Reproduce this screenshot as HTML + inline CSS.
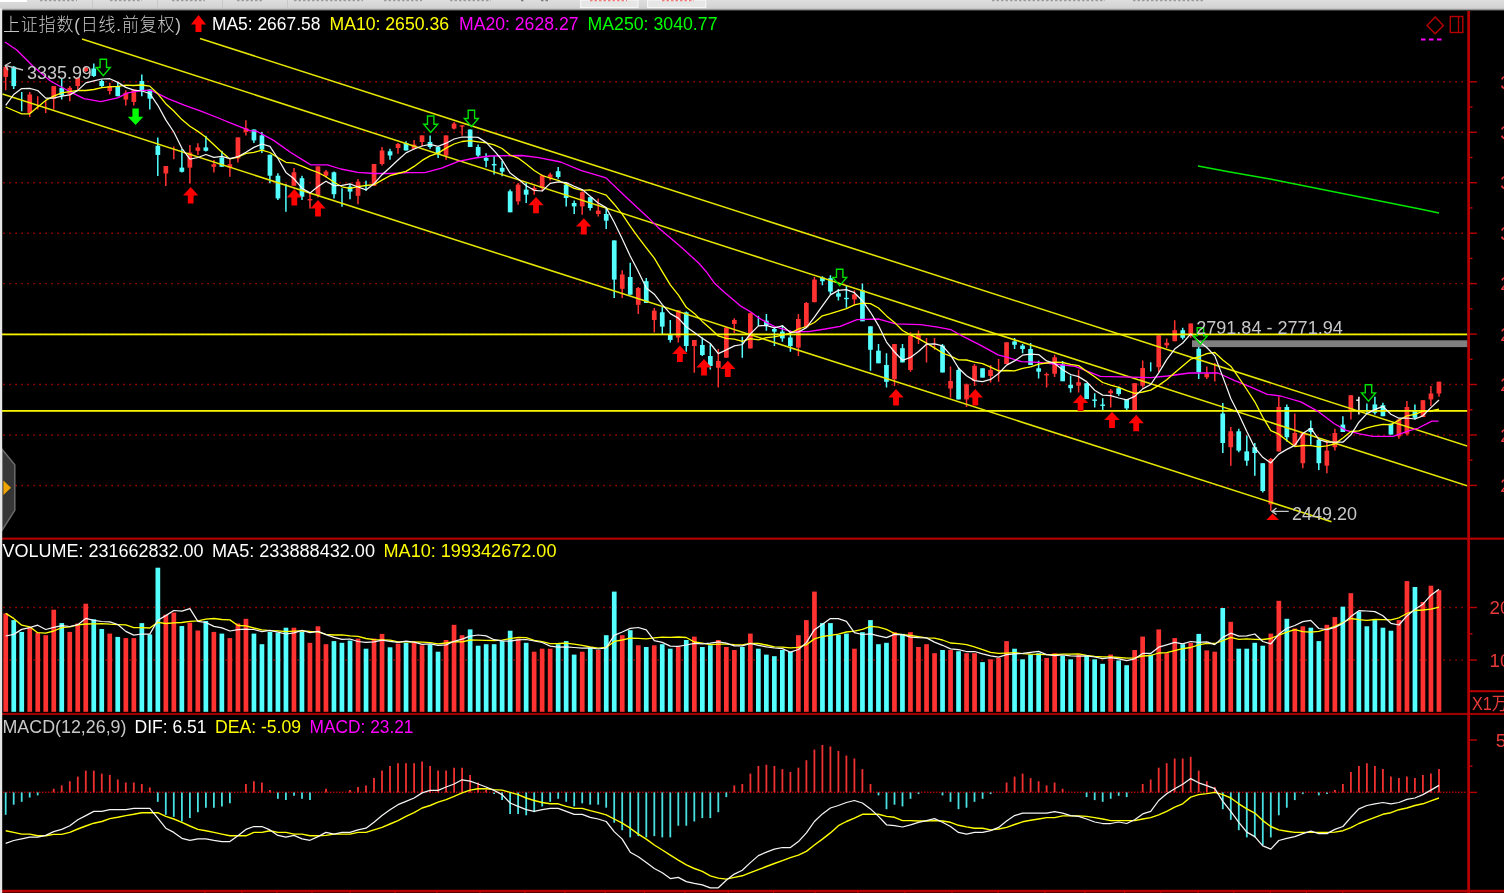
<!DOCTYPE html>
<html lang="zh-CN"><head><meta charset="utf-8"><title>上证指数 日线</title>
<style>html,body{margin:0;padding:0;background:#000;overflow:hidden}body{width:1504px;height:893px;position:relative}</style>
</head><body>
<svg width="1504" height="893" viewBox="0 0 1504 893" style="position:absolute;left:0;top:0;display:block;filter:blur(0.45px)">
<defs><linearGradient id="tb" x1="0" y1="0" x2="0" y2="1"><stop offset="0" stop-color="#dedede"/><stop offset="0.75" stop-color="#d2d2d2"/><stop offset="0.88" stop-color="#909090"/><stop offset="1" stop-color="#000"/></linearGradient>
<clipPath id="mainclip"><rect x="2" y="10" width="1465.5" height="528"/></clipPath></defs>
<rect width="1504" height="893" fill="#000"/>
<line x1="3.35" x2="1466" y1="81.8" y2="81.8" stroke="#b00000" stroke-width="1.45" stroke-dasharray="1.5 4.5"/>
<line x1="3.35" x2="1466" y1="132.2" y2="132.2" stroke="#b00000" stroke-width="1.45" stroke-dasharray="1.5 4.5"/>
<line x1="3.35" x2="1466" y1="182.7" y2="182.7" stroke="#b00000" stroke-width="1.45" stroke-dasharray="1.5 4.5"/>
<line x1="3.35" x2="1466" y1="233.2" y2="233.2" stroke="#b00000" stroke-width="1.45" stroke-dasharray="1.5 4.5"/>
<line x1="3.35" x2="1466" y1="283.6" y2="283.6" stroke="#b00000" stroke-width="1.45" stroke-dasharray="1.5 4.5"/>
<line x1="3.35" x2="1466" y1="334.1" y2="334.1" stroke="#b00000" stroke-width="1.45" stroke-dasharray="1.5 4.5"/>
<line x1="3.35" x2="1466" y1="384.5" y2="384.5" stroke="#b00000" stroke-width="1.45" stroke-dasharray="1.5 4.5"/>
<line x1="3.35" x2="1466" y1="435.0" y2="435.0" stroke="#b00000" stroke-width="1.45" stroke-dasharray="1.5 4.5"/>
<line x1="3.35" x2="1466" y1="485.4" y2="485.4" stroke="#b00000" stroke-width="1.45" stroke-dasharray="1.5 4.5"/>
<line x1="3.35" x2="1466" y1="607.5" y2="607.5" stroke="#b00000" stroke-width="1.45" stroke-dasharray="1.5 4.5"/>
<line x1="3.35" x2="1466" y1="660.1" y2="660.1" stroke="#b00000" stroke-width="1.45" stroke-dasharray="1.5 4.5"/>
<line x1="3" x2="1467" y1="792.2" y2="792.2" stroke="#a80000" stroke-width="1.6" stroke-dasharray="1.5 1.5"/>
<g clip-path="url(#mainclip)">
<rect x="1192" y="340.3" width="276" height="6.8" fill="#808080"/>
<line x1="5.7" x2="5.7" y1="65.0" y2="90.3" stroke="#ff3232" stroke-width="1.5"/>
<rect x="3.4" y="66.8" width="4.7" height="10.1" fill="#ff3232"/>
<line x1="13.7" x2="13.7" y1="66.0" y2="89.0" stroke="#54ffff" stroke-width="1.5"/>
<rect x="11.4" y="66.8" width="4.7" height="19.3" fill="#54ffff"/>
<line x1="21.7" x2="21.7" y1="92.0" y2="111.3" stroke="#54ffff" stroke-width="1.5"/>
<line x1="29.7" x2="29.7" y1="92.0" y2="117.0" stroke="#ff3232" stroke-width="1.5"/>
<rect x="27.4" y="94.5" width="4.7" height="18.5" fill="#ff3232"/>
<line x1="37.7" x2="37.7" y1="96.2" y2="109.6" stroke="#ff3232" stroke-width="1.5"/>
<line x1="45.7" x2="45.7" y1="100.4" y2="113.0" stroke="#ff3232" stroke-width="1.5"/>
<line x1="53.7" x2="53.7" y1="86.1" y2="109.6" stroke="#ff3232" stroke-width="1.5"/>
<rect x="51.4" y="86.1" width="4.7" height="12.6" fill="#ff3232"/>
<line x1="61.7" x2="61.7" y1="78.6" y2="99.6" stroke="#54ffff" stroke-width="1.5"/>
<rect x="59.4" y="87.8" width="4.7" height="7.6" fill="#54ffff"/>
<line x1="69.8" x2="69.8" y1="86.1" y2="101.2" stroke="#ff3232" stroke-width="1.5"/>
<rect x="67.4" y="87.8" width="4.7" height="6.7" fill="#ff3232"/>
<line x1="77.8" x2="77.8" y1="77.7" y2="89.5" stroke="#ff3232" stroke-width="1.5"/>
<rect x="75.4" y="77.7" width="4.7" height="8.4" fill="#ff3232"/>
<line x1="85.8" x2="85.8" y1="67.0" y2="72.0" stroke="#ff3232" stroke-width="1.5"/>
<rect x="83.4" y="67.6" width="4.7" height="3.4" fill="#ff3232"/>
<line x1="93.8" x2="93.8" y1="63.4" y2="77.0" stroke="#54ffff" stroke-width="1.5"/>
<rect x="91.4" y="68.5" width="4.7" height="7.5" fill="#54ffff"/>
<line x1="101.8" x2="101.8" y1="79.5" y2="87.0" stroke="#54ffff" stroke-width="1.5"/>
<rect x="99.4" y="81.0" width="4.7" height="5.0" fill="#54ffff"/>
<line x1="109.8" x2="109.8" y1="82.8" y2="94.5" stroke="#ff3232" stroke-width="1.5"/>
<rect x="107.4" y="86.0" width="4.7" height="5.0" fill="#ff3232"/>
<line x1="117.8" x2="117.8" y1="82.0" y2="96.2" stroke="#54ffff" stroke-width="1.5"/>
<rect x="115.4" y="86.0" width="4.7" height="10.2" fill="#54ffff"/>
<line x1="125.8" x2="125.8" y1="90.3" y2="105.4" stroke="#ff3232" stroke-width="1.5"/>
<rect x="123.5" y="92.8" width="4.7" height="6.8" fill="#ff3232"/>
<line x1="133.8" x2="133.8" y1="89.5" y2="105.4" stroke="#ff3232" stroke-width="1.5"/>
<rect x="131.5" y="89.5" width="4.7" height="12.5" fill="#ff3232"/>
<line x1="141.8" x2="141.8" y1="74.4" y2="96.2" stroke="#54ffff" stroke-width="1.5"/>
<rect x="139.5" y="81.0" width="4.7" height="9.3" fill="#54ffff"/>
<line x1="149.8" x2="149.8" y1="89.5" y2="109.6" stroke="#54ffff" stroke-width="1.5"/>
<rect x="147.5" y="89.5" width="4.7" height="9.2" fill="#54ffff"/>
<line x1="157.8" x2="157.8" y1="137.4" y2="176.0" stroke="#54ffff" stroke-width="1.5"/>
<rect x="155.5" y="145.8" width="4.7" height="9.2" fill="#54ffff"/>
<line x1="165.8" x2="165.8" y1="166.0" y2="186.0" stroke="#ff3232" stroke-width="1.5"/>
<rect x="163.5" y="166.0" width="4.7" height="7.5" fill="#ff3232"/>
<line x1="173.8" x2="173.8" y1="146.6" y2="159.2" stroke="#ff3232" stroke-width="1.5"/>
<line x1="181.9" x2="181.9" y1="149.0" y2="172.6" stroke="#54ffff" stroke-width="1.5"/>
<rect x="179.5" y="167.6" width="4.7" height="4.2" fill="#54ffff"/>
<line x1="189.9" x2="189.9" y1="145.0" y2="183.6" stroke="#ff3232" stroke-width="1.5"/>
<rect x="187.5" y="152.5" width="4.7" height="15.1" fill="#ff3232"/>
<line x1="197.9" x2="197.9" y1="143.2" y2="155.0" stroke="#ff3232" stroke-width="1.5"/>
<rect x="195.5" y="147.4" width="4.7" height="3.4" fill="#ff3232"/>
<line x1="205.9" x2="205.9" y1="135.7" y2="151.6" stroke="#54ffff" stroke-width="1.5"/>
<rect x="203.5" y="147.4" width="4.7" height="3.4" fill="#54ffff"/>
<line x1="213.9" x2="213.9" y1="160.0" y2="172.6" stroke="#ff3232" stroke-width="1.5"/>
<rect x="211.5" y="164.2" width="4.7" height="2.6" fill="#ff3232"/>
<line x1="221.9" x2="221.9" y1="150.8" y2="166.8" stroke="#54ffff" stroke-width="1.5"/>
<rect x="219.5" y="157.5" width="4.7" height="9.3" fill="#54ffff"/>
<line x1="229.9" x2="229.9" y1="159.2" y2="176.8" stroke="#ff3232" stroke-width="1.5"/>
<rect x="227.5" y="164.2" width="4.7" height="3.4" fill="#ff3232"/>
<line x1="237.9" x2="237.9" y1="137.4" y2="162.6" stroke="#ff3232" stroke-width="1.5"/>
<rect x="235.6" y="137.4" width="4.7" height="21.0" fill="#ff3232"/>
<line x1="245.9" x2="245.9" y1="120.3" y2="135.5" stroke="#ff3232" stroke-width="1.5"/>
<rect x="243.6" y="128.3" width="4.7" height="3.7" fill="#ff3232"/>
<line x1="253.9" x2="253.9" y1="129.5" y2="143.0" stroke="#54ffff" stroke-width="1.5"/>
<rect x="251.6" y="129.5" width="4.7" height="10.9" fill="#54ffff"/>
<line x1="261.9" x2="261.9" y1="132.0" y2="153.0" stroke="#54ffff" stroke-width="1.5"/>
<rect x="259.6" y="135.4" width="4.7" height="14.2" fill="#54ffff"/>
<line x1="269.9" x2="269.9" y1="154.7" y2="183.2" stroke="#54ffff" stroke-width="1.5"/>
<rect x="267.6" y="154.7" width="4.7" height="21.0" fill="#54ffff"/>
<line x1="277.9" x2="277.9" y1="173.2" y2="200.0" stroke="#54ffff" stroke-width="1.5"/>
<rect x="275.6" y="175.7" width="4.7" height="22.7" fill="#54ffff"/>
<line x1="285.9" x2="285.9" y1="184.0" y2="211.8" stroke="#54ffff" stroke-width="1.5"/>
<line x1="294.0" x2="294.0" y1="168.0" y2="185.8" stroke="#ff3232" stroke-width="1.5"/>
<rect x="291.6" y="172.3" width="4.7" height="13.5" fill="#ff3232"/>
<line x1="302.0" x2="302.0" y1="175.7" y2="200.0" stroke="#54ffff" stroke-width="1.5"/>
<rect x="299.6" y="178.2" width="4.7" height="18.5" fill="#54ffff"/>
<line x1="310.0" x2="310.0" y1="192.5" y2="208.4" stroke="#ff3232" stroke-width="1.5"/>
<rect x="307.6" y="199.0" width="4.7" height="1.4" fill="#ff3232"/>
<line x1="318.0" x2="318.0" y1="166.4" y2="197.5" stroke="#ff3232" stroke-width="1.5"/>
<rect x="315.6" y="166.4" width="4.7" height="28.6" fill="#ff3232"/>
<line x1="326.0" x2="326.0" y1="170.0" y2="177.4" stroke="#ff3232" stroke-width="1.5"/>
<rect x="323.6" y="171.5" width="4.7" height="4.2" fill="#ff3232"/>
<line x1="334.0" x2="334.0" y1="171.5" y2="198.4" stroke="#54ffff" stroke-width="1.5"/>
<rect x="331.6" y="172.3" width="4.7" height="21.9" fill="#54ffff"/>
<line x1="342.0" x2="342.0" y1="188.3" y2="206.8" stroke="#54ffff" stroke-width="1.5"/>
<line x1="350.0" x2="350.0" y1="184.0" y2="199.2" stroke="#54ffff" stroke-width="1.5"/>
<rect x="347.7" y="186.6" width="4.7" height="5.0" fill="#54ffff"/>
<line x1="358.0" x2="358.0" y1="179.0" y2="204.2" stroke="#ff3232" stroke-width="1.5"/>
<rect x="355.7" y="181.6" width="4.7" height="14.2" fill="#ff3232"/>
<line x1="366.0" x2="366.0" y1="180.7" y2="190.8" stroke="#54ffff" stroke-width="1.5"/>
<line x1="374.0" x2="374.0" y1="164.0" y2="185.8" stroke="#ff3232" stroke-width="1.5"/>
<rect x="371.7" y="164.0" width="4.7" height="21.8" fill="#ff3232"/>
<line x1="382.0" x2="382.0" y1="147.0" y2="165.6" stroke="#ff3232" stroke-width="1.5"/>
<rect x="379.7" y="150.5" width="4.7" height="13.5" fill="#ff3232"/>
<line x1="390.0" x2="390.0" y1="148.8" y2="159.7" stroke="#54ffff" stroke-width="1.5"/>
<rect x="387.7" y="151.3" width="4.7" height="4.2" fill="#54ffff"/>
<line x1="398.0" x2="398.0" y1="143.0" y2="153.8" stroke="#ff3232" stroke-width="1.5"/>
<rect x="395.7" y="144.0" width="4.7" height="4.0" fill="#ff3232"/>
<line x1="406.0" x2="406.0" y1="141.2" y2="150.5" stroke="#54ffff" stroke-width="1.5"/>
<rect x="403.7" y="143.0" width="4.7" height="7.5" fill="#54ffff"/>
<line x1="414.1" x2="414.1" y1="140.0" y2="149.6" stroke="#ff3232" stroke-width="1.5"/>
<rect x="411.7" y="144.6" width="4.7" height="4.2" fill="#ff3232"/>
<line x1="422.1" x2="422.1" y1="135.4" y2="146.3" stroke="#ff3232" stroke-width="1.5"/>
<rect x="419.7" y="135.4" width="4.7" height="6.6" fill="#ff3232"/>
<line x1="430.1" x2="430.1" y1="135.4" y2="148.8" stroke="#54ffff" stroke-width="1.5"/>
<rect x="427.7" y="142.0" width="4.7" height="5.0" fill="#54ffff"/>
<line x1="438.1" x2="438.1" y1="147.0" y2="158.0" stroke="#54ffff" stroke-width="1.5"/>
<rect x="435.7" y="147.0" width="4.7" height="6.8" fill="#54ffff"/>
<line x1="446.1" x2="446.1" y1="135.4" y2="159.7" stroke="#ff3232" stroke-width="1.5"/>
<rect x="443.7" y="135.4" width="4.7" height="20.1" fill="#ff3232"/>
<line x1="454.1" x2="454.1" y1="122.0" y2="129.5" stroke="#ff3232" stroke-width="1.5"/>
<rect x="451.7" y="123.6" width="4.7" height="5.0" fill="#ff3232"/>
<line x1="462.1" x2="462.1" y1="125.3" y2="135.4" stroke="#ff3232" stroke-width="1.5"/>
<rect x="459.7" y="125.3" width="4.7" height="1.4" fill="#ff3232"/>
<line x1="470.1" x2="470.1" y1="129.5" y2="147.0" stroke="#54ffff" stroke-width="1.5"/>
<rect x="467.8" y="129.5" width="4.7" height="17.5" fill="#54ffff"/>
<line x1="478.1" x2="478.1" y1="144.6" y2="157.2" stroke="#54ffff" stroke-width="1.5"/>
<rect x="475.8" y="147.0" width="4.7" height="8.5" fill="#54ffff"/>
<line x1="486.1" x2="486.1" y1="153.3" y2="167.2" stroke="#54ffff" stroke-width="1.5"/>
<rect x="483.8" y="157.8" width="4.7" height="3.0" fill="#54ffff"/>
<line x1="494.1" x2="494.1" y1="156.0" y2="174.5" stroke="#54ffff" stroke-width="1.5"/>
<rect x="491.8" y="164.0" width="4.7" height="1.4" fill="#54ffff"/>
<line x1="502.1" x2="502.1" y1="161.0" y2="176.2" stroke="#54ffff" stroke-width="1.5"/>
<rect x="499.8" y="167.8" width="4.7" height="3.9" fill="#54ffff"/>
<line x1="510.1" x2="510.1" y1="189.6" y2="212.3" stroke="#54ffff" stroke-width="1.5"/>
<rect x="507.8" y="191.3" width="4.7" height="21.0" fill="#54ffff"/>
<line x1="518.1" x2="518.1" y1="183.0" y2="204.8" stroke="#ff3232" stroke-width="1.5"/>
<rect x="515.8" y="184.6" width="4.7" height="16.8" fill="#ff3232"/>
<line x1="526.2" x2="526.2" y1="183.0" y2="203.0" stroke="#54ffff" stroke-width="1.5"/>
<rect x="523.8" y="189.6" width="4.7" height="5.1" fill="#54ffff"/>
<line x1="534.2" x2="534.2" y1="185.4" y2="194.7" stroke="#ff3232" stroke-width="1.5"/>
<rect x="531.8" y="188.0" width="4.7" height="2.5" fill="#ff3232"/>
<line x1="542.2" x2="542.2" y1="174.5" y2="191.3" stroke="#ff3232" stroke-width="1.5"/>
<rect x="539.8" y="175.4" width="4.7" height="12.6" fill="#ff3232"/>
<line x1="550.2" x2="550.2" y1="172.8" y2="180.4" stroke="#ff3232" stroke-width="1.5"/>
<rect x="547.8" y="174.5" width="4.7" height="3.4" fill="#ff3232"/>
<line x1="558.2" x2="558.2" y1="167.0" y2="178.7" stroke="#54ffff" stroke-width="1.5"/>
<rect x="555.8" y="171.2" width="4.7" height="5.8" fill="#54ffff"/>
<line x1="566.2" x2="566.2" y1="183.0" y2="206.4" stroke="#54ffff" stroke-width="1.5"/>
<rect x="563.8" y="184.6" width="4.7" height="13.4" fill="#54ffff"/>
<line x1="574.2" x2="574.2" y1="200.6" y2="214.0" stroke="#54ffff" stroke-width="1.5"/>
<rect x="571.8" y="203.0" width="4.7" height="3.4" fill="#54ffff"/>
<line x1="582.2" x2="582.2" y1="191.3" y2="214.8" stroke="#ff3232" stroke-width="1.5"/>
<rect x="579.9" y="192.2" width="4.7" height="14.2" fill="#ff3232"/>
<line x1="590.2" x2="590.2" y1="197.2" y2="210.6" stroke="#54ffff" stroke-width="1.5"/>
<rect x="587.9" y="197.2" width="4.7" height="10.8" fill="#54ffff"/>
<line x1="598.2" x2="598.2" y1="198.5" y2="216.5" stroke="#ff3232" stroke-width="1.5"/>
<rect x="595.9" y="210.6" width="4.7" height="3.4" fill="#ff3232"/>
<line x1="606.2" x2="606.2" y1="208.0" y2="229.0" stroke="#54ffff" stroke-width="1.5"/>
<rect x="603.9" y="214.0" width="4.7" height="6.7" fill="#54ffff"/>
<line x1="614.2" x2="614.2" y1="240.4" y2="298.0" stroke="#54ffff" stroke-width="1.5"/>
<rect x="611.9" y="240.4" width="4.7" height="39.2" fill="#54ffff"/>
<line x1="622.2" x2="622.2" y1="270.3" y2="298.0" stroke="#ff3232" stroke-width="1.5"/>
<rect x="619.9" y="274.5" width="4.7" height="14.3" fill="#ff3232"/>
<line x1="630.2" x2="630.2" y1="262.8" y2="294.7" stroke="#54ffff" stroke-width="1.5"/>
<rect x="627.9" y="277.0" width="4.7" height="17.7" fill="#54ffff"/>
<line x1="638.3" x2="638.3" y1="287.0" y2="314.0" stroke="#ff3232" stroke-width="1.5"/>
<rect x="635.9" y="288.0" width="4.7" height="16.8" fill="#ff3232"/>
<line x1="646.3" x2="646.3" y1="278.0" y2="303.0" stroke="#54ffff" stroke-width="1.5"/>
<rect x="643.9" y="281.2" width="4.7" height="21.8" fill="#54ffff"/>
<line x1="654.3" x2="654.3" y1="308.0" y2="332.5" stroke="#ff3232" stroke-width="1.5"/>
<rect x="651.9" y="310.6" width="4.7" height="9.4" fill="#ff3232"/>
<line x1="662.3" x2="662.3" y1="306.4" y2="334.0" stroke="#54ffff" stroke-width="1.5"/>
<rect x="659.9" y="312.3" width="4.7" height="14.3" fill="#54ffff"/>
<line x1="670.3" x2="670.3" y1="320.0" y2="342.6" stroke="#54ffff" stroke-width="1.5"/>
<rect x="667.9" y="335.0" width="4.7" height="5.0" fill="#54ffff"/>
<line x1="678.3" x2="678.3" y1="310.0" y2="342.6" stroke="#ff3232" stroke-width="1.5"/>
<rect x="675.9" y="310.3" width="4.7" height="27.2" fill="#ff3232"/>
<line x1="686.3" x2="686.3" y1="311.5" y2="351.8" stroke="#54ffff" stroke-width="1.5"/>
<rect x="683.9" y="312.3" width="4.7" height="33.7" fill="#54ffff"/>
<line x1="694.3" x2="694.3" y1="340.0" y2="372.8" stroke="#ff3232" stroke-width="1.5"/>
<rect x="692.0" y="340.0" width="4.7" height="6.0" fill="#ff3232"/>
<line x1="702.3" x2="702.3" y1="337.5" y2="356.0" stroke="#54ffff" stroke-width="1.5"/>
<rect x="700.0" y="345.0" width="4.7" height="10.0" fill="#54ffff"/>
<line x1="710.3" x2="710.3" y1="344.2" y2="369.5" stroke="#54ffff" stroke-width="1.5"/>
<rect x="708.0" y="356.0" width="4.7" height="10.0" fill="#54ffff"/>
<line x1="718.3" x2="718.3" y1="348.9" y2="387.5" stroke="#ff3232" stroke-width="1.5"/>
<rect x="716.0" y="361.0" width="4.7" height="6.8" fill="#ff3232"/>
<line x1="726.3" x2="726.3" y1="327.0" y2="357.7" stroke="#ff3232" stroke-width="1.5"/>
<rect x="724.0" y="327.4" width="4.7" height="30.3" fill="#ff3232"/>
<line x1="734.3" x2="734.3" y1="318.2" y2="333.3" stroke="#ff3232" stroke-width="1.5"/>
<rect x="732.0" y="320.0" width="4.7" height="4.0" fill="#ff3232"/>
<line x1="742.3" x2="742.3" y1="336.7" y2="357.7" stroke="#54ffff" stroke-width="1.5"/>
<line x1="750.4" x2="750.4" y1="312.4" y2="348.4" stroke="#ff3232" stroke-width="1.5"/>
<rect x="748.0" y="313.2" width="4.7" height="35.2" fill="#ff3232"/>
<line x1="758.4" x2="758.4" y1="315.7" y2="325.8" stroke="#54ffff" stroke-width="1.5"/>
<line x1="766.4" x2="766.4" y1="314.0" y2="330.8" stroke="#54ffff" stroke-width="1.5"/>
<rect x="764.0" y="320.7" width="4.7" height="4.3" fill="#54ffff"/>
<line x1="774.4" x2="774.4" y1="327.4" y2="346.0" stroke="#54ffff" stroke-width="1.5"/>
<rect x="772.0" y="329.0" width="4.7" height="2.6" fill="#54ffff"/>
<line x1="782.4" x2="782.4" y1="325.0" y2="341.7" stroke="#54ffff" stroke-width="1.5"/>
<rect x="780.0" y="331.6" width="4.7" height="6.8" fill="#54ffff"/>
<line x1="790.4" x2="790.4" y1="330.8" y2="351.8" stroke="#54ffff" stroke-width="1.5"/>
<rect x="788.0" y="337.5" width="4.7" height="8.5" fill="#54ffff"/>
<line x1="798.4" x2="798.4" y1="314.0" y2="356.0" stroke="#ff3232" stroke-width="1.5"/>
<rect x="796.0" y="319.0" width="4.7" height="28.6" fill="#ff3232"/>
<line x1="806.4" x2="806.4" y1="302.0" y2="327.4" stroke="#ff3232" stroke-width="1.5"/>
<rect x="804.0" y="303.0" width="4.7" height="24.4" fill="#ff3232"/>
<line x1="814.4" x2="814.4" y1="277.0" y2="302.2" stroke="#ff3232" stroke-width="1.5"/>
<rect x="812.1" y="279.6" width="4.7" height="22.6" fill="#ff3232"/>
<line x1="822.4" x2="822.4" y1="276.2" y2="285.2" stroke="#54ffff" stroke-width="1.5"/>
<rect x="820.1" y="277.5" width="4.7" height="3.7" fill="#54ffff"/>
<line x1="830.4" x2="830.4" y1="275.2" y2="294.5" stroke="#54ffff" stroke-width="1.5"/>
<rect x="828.1" y="278.2" width="4.7" height="13.4" fill="#54ffff"/>
<line x1="838.4" x2="838.4" y1="289.0" y2="300.4" stroke="#54ffff" stroke-width="1.5"/>
<rect x="836.1" y="293.3" width="4.7" height="3.4" fill="#54ffff"/>
<line x1="846.4" x2="846.4" y1="285.2" y2="307.8" stroke="#54ffff" stroke-width="1.5"/>
<rect x="844.1" y="297.8" width="4.7" height="1.4" fill="#54ffff"/>
<line x1="854.4" x2="854.4" y1="290.2" y2="305.3" stroke="#ff3232" stroke-width="1.5"/>
<rect x="852.1" y="294.4" width="4.7" height="5.0" fill="#ff3232"/>
<line x1="862.4" x2="862.4" y1="283.5" y2="321.3" stroke="#54ffff" stroke-width="1.5"/>
<rect x="860.1" y="290.2" width="4.7" height="31.1" fill="#54ffff"/>
<line x1="870.5" x2="870.5" y1="326.3" y2="370.8" stroke="#54ffff" stroke-width="1.5"/>
<rect x="868.1" y="326.3" width="4.7" height="23.5" fill="#54ffff"/>
<line x1="878.5" x2="878.5" y1="344.0" y2="363.3" stroke="#54ffff" stroke-width="1.5"/>
<rect x="876.1" y="350.7" width="4.7" height="12.6" fill="#54ffff"/>
<line x1="886.5" x2="886.5" y1="353.2" y2="387.6" stroke="#54ffff" stroke-width="1.5"/>
<rect x="884.1" y="365.0" width="4.7" height="16.8" fill="#54ffff"/>
<line x1="894.5" x2="894.5" y1="344.0" y2="386.0" stroke="#ff3232" stroke-width="1.5"/>
<rect x="892.1" y="344.0" width="4.7" height="35.2" fill="#ff3232"/>
<line x1="902.5" x2="902.5" y1="344.0" y2="362.4" stroke="#54ffff" stroke-width="1.5"/>
<rect x="900.1" y="348.2" width="4.7" height="14.2" fill="#54ffff"/>
<line x1="910.5" x2="910.5" y1="332.2" y2="371.7" stroke="#ff3232" stroke-width="1.5"/>
<rect x="908.1" y="335.6" width="4.7" height="34.4" fill="#ff3232"/>
<line x1="918.5" x2="918.5" y1="330.5" y2="344.0" stroke="#ff3232" stroke-width="1.5"/>
<rect x="916.1" y="333.9" width="4.7" height="5.1" fill="#ff3232"/>
<line x1="926.5" x2="926.5" y1="338.0" y2="362.4" stroke="#ff3232" stroke-width="1.5"/>
<line x1="934.5" x2="934.5" y1="338.0" y2="349.8" stroke="#ff3232" stroke-width="1.5"/>
<line x1="942.5" x2="942.5" y1="344.0" y2="372.5" stroke="#54ffff" stroke-width="1.5"/>
<rect x="940.2" y="345.6" width="4.7" height="26.9" fill="#54ffff"/>
<line x1="950.5" x2="950.5" y1="366.6" y2="397.7" stroke="#ff3232" stroke-width="1.5"/>
<rect x="948.2" y="381.0" width="4.7" height="7.5" fill="#ff3232"/>
<line x1="958.5" x2="958.5" y1="367.5" y2="399.4" stroke="#54ffff" stroke-width="1.5"/>
<rect x="956.2" y="370.0" width="4.7" height="29.4" fill="#54ffff"/>
<line x1="966.5" x2="966.5" y1="383.5" y2="407.0" stroke="#ff3232" stroke-width="1.5"/>
<rect x="964.2" y="384.3" width="4.7" height="15.1" fill="#ff3232"/>
<line x1="974.5" x2="974.5" y1="364.0" y2="386.0" stroke="#ff3232" stroke-width="1.5"/>
<rect x="972.2" y="365.8" width="4.7" height="15.2" fill="#ff3232"/>
<line x1="982.6" x2="982.6" y1="368.3" y2="377.6" stroke="#54ffff" stroke-width="1.5"/>
<rect x="980.2" y="368.3" width="4.7" height="9.3" fill="#54ffff"/>
<line x1="990.6" x2="990.6" y1="365.0" y2="382.6" stroke="#ff3232" stroke-width="1.5"/>
<rect x="988.2" y="370.0" width="4.7" height="6.0" fill="#ff3232"/>
<line x1="998.6" x2="998.6" y1="359.0" y2="381.8" stroke="#ff3232" stroke-width="1.5"/>
<line x1="1006.6" x2="1006.6" y1="342.3" y2="364.0" stroke="#ff3232" stroke-width="1.5"/>
<rect x="1004.2" y="342.3" width="4.7" height="21.7" fill="#ff3232"/>
<line x1="1014.6" x2="1014.6" y1="338.0" y2="349.0" stroke="#54ffff" stroke-width="1.5"/>
<rect x="1012.2" y="341.4" width="4.7" height="3.4" fill="#54ffff"/>
<line x1="1022.6" x2="1022.6" y1="344.0" y2="353.2" stroke="#54ffff" stroke-width="1.5"/>
<rect x="1020.2" y="345.6" width="4.7" height="3.4" fill="#54ffff"/>
<line x1="1030.6" x2="1030.6" y1="343.0" y2="365.0" stroke="#54ffff" stroke-width="1.5"/>
<rect x="1028.2" y="349.0" width="4.7" height="16.0" fill="#54ffff"/>
<line x1="1038.6" x2="1038.6" y1="360.8" y2="378.4" stroke="#54ffff" stroke-width="1.5"/>
<rect x="1036.3" y="368.3" width="4.7" height="3.4" fill="#54ffff"/>
<line x1="1046.6" x2="1046.6" y1="372.5" y2="387.6" stroke="#ff3232" stroke-width="1.5"/>
<rect x="1044.3" y="374.0" width="4.7" height="1.4" fill="#ff3232"/>
<line x1="1054.6" x2="1054.6" y1="354.8" y2="377.0" stroke="#ff3232" stroke-width="1.5"/>
<rect x="1052.3" y="357.3" width="4.7" height="16.4" fill="#ff3232"/>
<line x1="1062.6" x2="1062.6" y1="361.0" y2="381.2" stroke="#54ffff" stroke-width="1.5"/>
<rect x="1060.3" y="364.4" width="4.7" height="16.8" fill="#54ffff"/>
<line x1="1070.6" x2="1070.6" y1="375.6" y2="392.4" stroke="#54ffff" stroke-width="1.5"/>
<rect x="1068.3" y="384.8" width="4.7" height="3.4" fill="#54ffff"/>
<line x1="1078.6" x2="1078.6" y1="369.7" y2="392.4" stroke="#ff3232" stroke-width="1.5"/>
<rect x="1076.3" y="382.3" width="4.7" height="3.4" fill="#ff3232"/>
<line x1="1086.6" x2="1086.6" y1="383.2" y2="399.1" stroke="#54ffff" stroke-width="1.5"/>
<rect x="1084.3" y="383.2" width="4.7" height="15.9" fill="#54ffff"/>
<line x1="1094.7" x2="1094.7" y1="393.2" y2="407.5" stroke="#54ffff" stroke-width="1.5"/>
<rect x="1092.3" y="399.5" width="4.7" height="1.4" fill="#54ffff"/>
<line x1="1102.7" x2="1102.7" y1="398.3" y2="410.0" stroke="#54ffff" stroke-width="1.5"/>
<rect x="1100.3" y="404.5" width="4.7" height="1.4" fill="#54ffff"/>
<line x1="1110.7" x2="1110.7" y1="389.0" y2="407.5" stroke="#ff3232" stroke-width="1.5"/>
<rect x="1108.3" y="390.7" width="4.7" height="2.5" fill="#ff3232"/>
<line x1="1118.7" x2="1118.7" y1="386.5" y2="395.8" stroke="#54ffff" stroke-width="1.5"/>
<rect x="1116.3" y="388.2" width="4.7" height="5.8" fill="#54ffff"/>
<line x1="1126.7" x2="1126.7" y1="399.0" y2="410.0" stroke="#54ffff" stroke-width="1.5"/>
<rect x="1124.3" y="399.0" width="4.7" height="9.4" fill="#54ffff"/>
<line x1="1134.7" x2="1134.7" y1="383.2" y2="410.0" stroke="#ff3232" stroke-width="1.5"/>
<rect x="1132.3" y="383.2" width="4.7" height="26.8" fill="#ff3232"/>
<line x1="1142.7" x2="1142.7" y1="360.5" y2="387.4" stroke="#ff3232" stroke-width="1.5"/>
<rect x="1140.3" y="368.0" width="4.7" height="17.7" fill="#ff3232"/>
<line x1="1150.7" x2="1150.7" y1="362.2" y2="371.4" stroke="#54ffff" stroke-width="1.5"/>
<line x1="1158.7" x2="1158.7" y1="335.3" y2="372.2" stroke="#ff3232" stroke-width="1.5"/>
<rect x="1156.4" y="335.3" width="4.7" height="31.9" fill="#ff3232"/>
<line x1="1166.7" x2="1166.7" y1="338.6" y2="347.9" stroke="#ff3232" stroke-width="1.5"/>
<rect x="1164.4" y="342.8" width="4.7" height="2.6" fill="#ff3232"/>
<line x1="1174.7" x2="1174.7" y1="320.2" y2="341.2" stroke="#ff3232" stroke-width="1.5"/>
<rect x="1172.4" y="330.2" width="4.7" height="11.0" fill="#ff3232"/>
<line x1="1182.7" x2="1182.7" y1="327.7" y2="339.5" stroke="#54ffff" stroke-width="1.5"/>
<rect x="1180.4" y="330.2" width="4.7" height="7.6" fill="#54ffff"/>
<line x1="1190.7" x2="1190.7" y1="323.5" y2="337.8" stroke="#ff3232" stroke-width="1.5"/>
<rect x="1188.4" y="323.5" width="4.7" height="12.5" fill="#ff3232"/>
<line x1="1198.7" x2="1198.7" y1="347.0" y2="379.0" stroke="#54ffff" stroke-width="1.5"/>
<rect x="1196.4" y="348.7" width="4.7" height="23.5" fill="#54ffff"/>
<line x1="1206.8" x2="1206.8" y1="366.4" y2="379.0" stroke="#ff3232" stroke-width="1.5"/>
<rect x="1204.4" y="374.0" width="4.7" height="3.3" fill="#ff3232"/>
<line x1="1214.8" x2="1214.8" y1="363.0" y2="381.5" stroke="#ff3232" stroke-width="1.5"/>
<line x1="1222.8" x2="1222.8" y1="403.0" y2="453.0" stroke="#54ffff" stroke-width="1.5"/>
<rect x="1220.4" y="413.5" width="4.7" height="29.5" fill="#54ffff"/>
<line x1="1230.8" x2="1230.8" y1="427.0" y2="465.7" stroke="#ff3232" stroke-width="1.5"/>
<rect x="1228.4" y="431.3" width="4.7" height="15.9" fill="#ff3232"/>
<line x1="1238.8" x2="1238.8" y1="428.8" y2="452.3" stroke="#54ffff" stroke-width="1.5"/>
<rect x="1236.4" y="431.3" width="4.7" height="19.3" fill="#54ffff"/>
<line x1="1246.8" x2="1246.8" y1="435.5" y2="465.7" stroke="#54ffff" stroke-width="1.5"/>
<rect x="1244.4" y="451.4" width="4.7" height="9.3" fill="#54ffff"/>
<line x1="1254.8" x2="1254.8" y1="443.0" y2="475.8" stroke="#54ffff" stroke-width="1.5"/>
<rect x="1252.4" y="447.2" width="4.7" height="5.8" fill="#54ffff"/>
<line x1="1262.8" x2="1262.8" y1="463.2" y2="492.6" stroke="#54ffff" stroke-width="1.5"/>
<rect x="1260.4" y="463.2" width="4.7" height="27.8" fill="#54ffff"/>
<line x1="1270.8" x2="1270.8" y1="458.0" y2="511.0" stroke="#ff3232" stroke-width="1.5"/>
<rect x="1268.5" y="459.0" width="4.7" height="45.4" fill="#ff3232"/>
<line x1="1278.8" x2="1278.8" y1="396.8" y2="451.4" stroke="#ff3232" stroke-width="1.5"/>
<rect x="1276.5" y="407.0" width="4.7" height="44.4" fill="#ff3232"/>
<line x1="1286.8" x2="1286.8" y1="404.4" y2="441.4" stroke="#54ffff" stroke-width="1.5"/>
<rect x="1284.5" y="407.0" width="4.7" height="30.2" fill="#54ffff"/>
<line x1="1294.8" x2="1294.8" y1="413.6" y2="445.6" stroke="#ff3232" stroke-width="1.5"/>
<rect x="1292.5" y="433.0" width="4.7" height="12.6" fill="#ff3232"/>
<line x1="1302.8" x2="1302.8" y1="432.0" y2="468.2" stroke="#ff3232" stroke-width="1.5"/>
<rect x="1300.5" y="432.0" width="4.7" height="31.2" fill="#ff3232"/>
<line x1="1310.8" x2="1310.8" y1="420.4" y2="444.7" stroke="#54ffff" stroke-width="1.5"/>
<rect x="1308.5" y="428.0" width="4.7" height="4.0" fill="#54ffff"/>
<line x1="1318.8" x2="1318.8" y1="439.7" y2="470.0" stroke="#54ffff" stroke-width="1.5"/>
<rect x="1316.5" y="439.7" width="4.7" height="23.5" fill="#54ffff"/>
<line x1="1326.9" x2="1326.9" y1="440.5" y2="473.3" stroke="#ff3232" stroke-width="1.5"/>
<rect x="1324.5" y="450.6" width="4.7" height="15.1" fill="#ff3232"/>
<line x1="1334.9" x2="1334.9" y1="428.8" y2="450.6" stroke="#ff3232" stroke-width="1.5"/>
<rect x="1332.5" y="433.0" width="4.7" height="14.2" fill="#ff3232"/>
<line x1="1342.9" x2="1342.9" y1="416.2" y2="432.0" stroke="#54ffff" stroke-width="1.5"/>
<rect x="1340.5" y="424.6" width="4.7" height="7.4" fill="#54ffff"/>
<line x1="1350.9" x2="1350.9" y1="395.2" y2="419.5" stroke="#ff3232" stroke-width="1.5"/>
<rect x="1348.5" y="395.2" width="4.7" height="15.1" fill="#ff3232"/>
<line x1="1358.9" x2="1358.9" y1="396.8" y2="414.5" stroke="#ffffff" stroke-width="1.5"/>
<rect x="1356.2" y="399.5" width="2.7" height="1.4" fill="#ffffff"/>
<line x1="1366.9" x2="1366.9" y1="403.6" y2="412.8" stroke="#54ffff" stroke-width="1.5"/>
<line x1="1374.9" x2="1374.9" y1="396.8" y2="414.5" stroke="#54ffff" stroke-width="1.5"/>
<rect x="1372.5" y="404.4" width="4.7" height="8.4" fill="#54ffff"/>
<line x1="1382.9" x2="1382.9" y1="402.7" y2="416.2" stroke="#54ffff" stroke-width="1.5"/>
<rect x="1380.6" y="405.2" width="4.7" height="11.0" fill="#54ffff"/>
<line x1="1390.9" x2="1390.9" y1="423.7" y2="434.6" stroke="#54ffff" stroke-width="1.5"/>
<rect x="1388.6" y="423.7" width="4.7" height="10.9" fill="#54ffff"/>
<line x1="1398.9" x2="1398.9" y1="418.5" y2="438.8" stroke="#ff3232" stroke-width="1.5"/>
<rect x="1396.6" y="419.5" width="4.7" height="16.8" fill="#ff3232"/>
<line x1="1406.9" x2="1406.9" y1="401.0" y2="435.5" stroke="#ff3232" stroke-width="1.5"/>
<rect x="1404.6" y="407.0" width="4.7" height="26.8" fill="#ff3232"/>
<line x1="1414.9" x2="1414.9" y1="404.4" y2="419.5" stroke="#54ffff" stroke-width="1.5"/>
<rect x="1412.6" y="411.0" width="4.7" height="6.8" fill="#54ffff"/>
<line x1="1422.9" x2="1422.9" y1="400.2" y2="417.0" stroke="#ff3232" stroke-width="1.5"/>
<rect x="1420.6" y="400.2" width="4.7" height="16.8" fill="#ff3232"/>
<line x1="1430.9" x2="1430.9" y1="386.0" y2="406.0" stroke="#ff3232" stroke-width="1.5"/>
<rect x="1428.6" y="393.5" width="4.7" height="5.9" fill="#ff3232"/>
<line x1="1439.0" x2="1439.0" y1="381.7" y2="396.8" stroke="#ff3232" stroke-width="1.5"/>
<rect x="1436.6" y="381.7" width="4.7" height="11.8" fill="#ff3232"/>
<line x1="200" y1="38.5" x2="1468" y2="446.2888" stroke="#e6e600" stroke-width="1.55"/>
<line x1="82" y1="39" x2="1468" y2="486.1236" stroke="#e6e600" stroke-width="1.55"/>
<line x1="2.5" y1="94" x2="1331.5" y2="521.8051" stroke="#e6e600" stroke-width="1.55"/>
<rect x="2" y="333.5" width="1466" height="1.8" fill="#f4f400"/>
<rect x="2" y="410" width="1466" height="1.8" fill="#f4f400"/>
<polyline points="5.0,42.0 16.8,50.0 33.6,66.8 50.4,81.0 67.2,90.3 84.0,98.7 100.8,101.7 117.6,97.9 127.7,92.8 142.8,90.3 151.2,90.3 168.0,98.7 184.8,105.4 201.6,111.3 218.4,118.0 235.2,124.8 250.0,130.6 256.8,131.2 273.6,140.4 290.4,152.2 303.8,160.6 310.6,164.8 327.4,164.8 340.8,169.0 357.6,172.3 374.4,173.5 391.2,173.5 408.0,172.7 424.8,172.7 441.6,168.1 458.4,161.4 475.2,158.0 490.0,156.0 522.0,155.5 538.8,157.7 560.6,162.0 580.8,170.3 606.0,177.9 626.2,197.2 648.0,217.4 658.0,227.4 669.9,237.5 681.6,247.6 698.4,262.7 705.9,271.2 714.3,282.9 724.4,292.2 741.2,306.4 751.3,312.3 758.0,317.4 766.4,322.4 774.8,326.6 791.6,331.6 808.4,331.6 825.2,329.0 840.2,326.3 857.0,319.6 878.8,319.0 895.6,323.8 920.8,324.6 937.6,327.2 951.0,329.7 964.5,337.2 981.3,345.6 998.0,354.9 1004.8,356.6 1021.6,361.6 1038.4,362.4 1055.2,364.0 1075.2,366.4 1100.4,376.4 1150.8,377.6 1167.6,376.0 1189.4,373.0 1218.0,373.0 1234.8,380.6 1251.6,387.4 1267.2,394.3 1280.6,396.0 1300.8,401.9 1317.6,411.1 1334.4,423.7 1346.2,430.4 1359.6,433.8 1373.0,436.3 1393.2,436.3 1410.0,430.4 1418.4,428.0 1431.9,421.2 1438.6,421.2" fill="none" stroke="#ff00ff" stroke-width="1.3" stroke-linejoin="round" />
<polyline points="5.7,107.0 13.7,110.5 21.7,113.8 29.7,113.8 37.7,107.0 45.7,100.4 53.7,96.2 61.7,92.8 69.8,91.7 77.8,90.4 85.8,90.5 93.8,89.5 101.8,87.6 109.8,86.8 117.8,86.4 125.8,85.2 133.8,85.5 141.8,85.0 149.8,86.1 157.8,93.8 165.8,103.7 173.8,111.0 181.9,119.6 189.9,126.3 197.9,131.4 205.9,137.2 213.9,144.7 221.9,152.3 229.9,158.9 237.9,157.1 245.9,153.3 253.9,152.4 261.9,150.2 269.9,152.5 277.9,157.6 285.9,162.3 294.0,163.1 302.0,166.1 310.0,169.6 318.0,172.5 326.0,176.8 334.0,182.2 342.0,186.8 350.0,188.4 358.0,186.7 366.0,185.5 374.0,184.7 382.0,180.1 390.0,175.7 398.0,173.5 406.0,171.4 414.1,166.4 422.1,160.4 430.1,155.9 438.1,153.1 446.1,148.1 454.1,144.0 462.1,141.5 470.1,140.7 478.1,141.8 486.1,142.8 494.1,144.9 502.1,148.5 510.1,155.0 518.1,158.1 526.2,164.1 534.2,170.5 542.2,175.5 550.2,178.2 558.2,180.4 566.2,184.1 574.2,188.3 582.2,190.3 590.2,189.9 598.2,192.5 606.2,195.1 614.2,204.2 622.2,214.2 630.2,226.2 638.3,237.3 646.3,247.8 654.3,258.2 662.3,271.6 670.3,284.8 678.3,294.8 686.3,307.3 694.3,313.4 702.3,321.4 710.3,328.6 718.3,335.9 726.3,338.3 734.3,339.2 742.3,341.4 750.4,338.7 758.4,339.8 766.4,337.7 774.4,336.8 782.4,335.2 790.4,333.2 798.4,329.0 806.4,326.5 814.4,322.5 822.4,315.8 830.4,313.6 838.4,311.2 846.4,308.6 854.4,304.9 862.4,303.2 870.5,303.6 878.5,308.0 886.5,315.9 894.5,322.4 902.5,330.5 910.5,334.9 918.5,338.6 926.5,343.1 934.5,347.9 942.5,353.0 950.5,356.1 958.5,359.8 966.5,360.0 974.5,362.2 982.6,363.7 990.6,367.1 998.6,370.8 1006.6,370.5 1014.6,370.8 1022.6,368.4 1030.6,366.8 1038.6,364.1 1046.6,363.0 1054.6,362.2 1062.6,362.5 1070.6,364.4 1078.6,365.6 1086.6,371.3 1094.7,376.8 1102.7,382.5 1110.7,385.1 1118.7,387.3 1126.7,390.7 1134.7,393.3 1142.7,392.0 1150.7,390.1 1158.7,385.4 1166.7,379.7 1174.7,372.7 1182.7,365.9 1190.7,359.2 1198.7,357.0 1206.8,353.6 1214.8,352.5 1222.8,360.0 1230.8,366.2 1238.8,377.7 1246.8,389.5 1254.8,401.8 1262.8,417.1 1270.8,430.7 1278.8,434.2 1286.8,440.5 1294.8,446.6 1302.8,445.5 1310.8,445.6 1318.8,446.8 1326.9,445.8 1334.9,443.8 1342.9,437.9 1350.9,431.5 1358.9,430.8 1366.9,427.9 1374.9,425.9 1382.9,424.3 1390.9,424.6 1398.9,420.2 1406.9,415.8 1414.9,414.3 1422.9,411.1 1430.9,411.0 1439.0,409.1" fill="none" stroke="#ffff00" stroke-width="1.3" stroke-linejoin="round" />
<polyline points="5.7,105.4 13.7,94.5 21.7,88.6 29.7,88.3 37.7,90.5 45.7,98.1 53.7,98.1 61.7,96.2 69.8,94.9 77.8,90.4 85.8,82.9 93.8,80.9 101.8,79.0 109.8,78.7 117.8,82.4 125.8,87.4 133.8,90.1 141.8,91.0 149.8,93.5 157.8,105.3 165.8,119.9 173.8,132.0 181.9,148.3 189.9,159.1 197.9,157.5 205.9,154.5 213.9,157.3 221.9,156.3 229.9,158.7 237.9,156.7 245.9,152.2 253.9,147.4 261.9,144.0 269.9,146.3 277.9,158.5 285.9,172.4 294.0,178.8 302.0,188.2 310.0,192.9 318.0,186.5 326.0,181.2 334.0,185.6 342.0,185.4 350.0,183.9 358.0,187.0 366.0,189.9 374.0,183.8 382.0,174.7 390.0,167.5 398.0,160.0 406.0,152.9 414.1,149.0 422.1,146.0 430.1,144.3 438.1,146.3 446.1,143.2 454.1,139.0 462.1,137.0 470.1,137.0 478.1,137.4 486.1,142.4 494.1,150.7 502.1,160.0 510.1,173.1 518.1,178.9 526.2,185.7 534.2,190.3 542.2,191.0 550.2,183.4 558.2,181.9 566.2,182.6 574.2,186.3 582.2,189.6 590.2,196.3 598.2,203.0 606.2,207.6 614.2,222.2 622.2,238.7 630.2,256.0 638.3,271.5 646.3,288.0 654.3,294.2 662.3,304.6 670.3,313.6 678.3,318.1 686.3,326.7 694.3,332.6 702.3,338.3 710.3,343.5 718.3,353.6 726.3,349.9 734.3,345.9 742.3,344.5 750.4,333.9 758.4,325.9 766.4,325.4 774.4,327.8 782.4,325.8 790.4,332.4 798.4,332.0 806.4,327.6 814.4,317.2 822.4,305.8 830.4,294.9 838.4,290.4 846.4,289.7 854.4,292.7 862.4,300.7 870.5,312.3 878.5,325.6 886.5,342.1 894.5,352.0 902.5,360.3 910.5,357.4 918.5,351.5 926.5,344.2 934.5,343.8 942.5,345.8 950.5,354.9 958.5,368.0 966.5,375.8 974.5,380.6 982.6,381.6 990.6,379.4 998.6,373.5 1006.6,365.1 1014.6,360.9 1022.6,355.2 1030.6,354.2 1038.6,354.6 1046.6,360.9 1054.6,363.4 1062.6,369.8 1070.6,374.5 1078.6,376.6 1086.6,381.6 1094.7,390.3 1102.7,395.1 1110.7,395.6 1118.7,398.0 1126.7,399.8 1134.7,396.4 1142.7,388.9 1150.7,384.5 1158.7,372.8 1166.7,359.7 1174.7,349.1 1182.7,343.0 1190.7,333.9 1198.7,341.3 1206.8,347.5 1214.8,355.9 1222.8,376.9 1230.8,398.5 1238.8,414.2 1246.8,431.5 1254.8,447.7 1262.8,457.3 1270.8,462.9 1278.8,454.1 1286.8,449.4 1294.8,445.4 1302.8,433.6 1310.8,428.2 1318.8,439.5 1326.9,442.2 1334.9,442.2 1342.9,442.2 1350.9,434.8 1358.9,422.2 1366.9,413.6 1374.9,409.6 1382.9,406.4 1390.9,414.3 1398.9,418.2 1406.9,418.0 1414.9,419.0 1422.9,415.8 1430.9,407.6 1439.0,400.0" fill="none" stroke="#f4f4f4" stroke-width="1.25" stroke-linejoin="round" />
<polyline points="1198.0,166.0 1230.0,172.0 1270.0,179.0 1310.0,187.0 1350.0,195.0 1390.0,203.0 1420.0,209.0 1439.0,213.0" fill="none" stroke="#00e800" stroke-width="1.5" stroke-linejoin="round" />
</g>
<path d="M190.7,187.0 L198.3,195.4 L193.6,195.4 L193.6,203.4 L187.8,203.4 L187.8,195.4 L183.0,195.4 Z" fill="#ff0000"/>
<path d="M294.3,189.0 L301.9,197.4 L297.2,197.4 L297.2,205.4 L291.4,205.4 L291.4,197.4 L286.7,197.4 Z" fill="#ff0000"/>
<path d="M318.0,200.0 L325.6,208.4 L320.9,208.4 L320.9,216.4 L315.1,216.4 L315.1,208.4 L310.4,208.4 Z" fill="#ff0000"/>
<path d="M536.0,196.9 L543.6,205.3 L538.9,205.3 L538.9,213.3 L533.1,213.3 L533.1,205.3 L528.4,205.3 Z" fill="#ff0000"/>
<path d="M583.8,218.2 L591.4,226.6 L586.7,226.6 L586.7,234.6 L580.9,234.6 L580.9,226.6 L576.1,226.6 Z" fill="#ff0000"/>
<path d="M679.9,345.6 L687.5,354.0 L682.8,354.0 L682.8,362.0 L677.0,362.0 L677.0,354.0 L672.2,354.0 Z" fill="#ff0000"/>
<path d="M704.0,359.0 L711.6,367.4 L706.9,367.4 L706.9,375.4 L701.1,375.4 L701.1,367.4 L696.4,367.4 Z" fill="#ff0000"/>
<path d="M727.8,360.7 L735.4,369.1 L730.7,369.1 L730.7,377.1 L724.9,377.1 L724.9,369.1 L720.1,369.1 Z" fill="#ff0000"/>
<path d="M896.0,389.0 L903.6,397.4 L898.9,397.4 L898.9,405.4 L893.1,405.4 L893.1,397.4 L888.4,397.4 Z" fill="#ff0000"/>
<path d="M975.3,389.0 L982.9,397.4 L978.2,397.4 L978.2,405.4 L972.4,405.4 L972.4,397.4 L967.6,397.4 Z" fill="#ff0000"/>
<path d="M1080.6,394.5 L1088.2,402.9 L1083.5,402.9 L1083.5,410.9 L1077.7,410.9 L1077.7,402.9 L1072.9,402.9 Z" fill="#ff0000"/>
<path d="M1112.0,411.7 L1119.7,420.1 L1114.9,420.1 L1114.9,428.1 L1109.1,428.1 L1109.1,420.1 L1104.3,420.1 Z" fill="#ff0000"/>
<path d="M1136.2,414.8 L1143.9,423.2 L1139.1,423.2 L1139.1,431.2 L1133.3,431.2 L1133.3,423.2 L1128.5,423.2 Z" fill="#ff0000"/>
<path d="M100.1,59.2 L106.5,59.2 L106.5,67.5 L110.3,67.5 L103.3,75.7 L96.3,67.5 L100.1,67.5 Z" fill="none" stroke="#00e000" stroke-width="1.4"/>
<path d="M427.5,116.0 L433.9,116.0 L433.9,124.2 L437.7,124.2 L430.7,132.5 L423.7,124.2 L427.5,124.2 Z" fill="none" stroke="#00e000" stroke-width="1.4"/>
<path d="M468.2,110.2 L474.6,110.2 L474.6,118.5 L478.4,118.5 L471.4,126.7 L464.4,118.5 L468.2,118.5 Z" fill="none" stroke="#00e000" stroke-width="1.4"/>
<path d="M836.5,269.2 L842.9,269.2 L842.9,277.4 L846.7,277.4 L839.7,285.7 L832.7,277.4 L836.5,277.4 Z" fill="none" stroke="#00e000" stroke-width="1.4"/>
<path d="M1197.2,327.7 L1203.6,327.7 L1203.6,335.9 L1207.4,335.9 L1200.4,344.2 L1193.4,335.9 L1197.2,335.9 Z" fill="none" stroke="#00e000" stroke-width="1.4"/>
<path d="M1365.3,384.7 L1371.7,384.7 L1371.7,392.9 L1375.5,392.9 L1368.5,401.2 L1361.5,392.9 L1365.3,392.9 Z" fill="none" stroke="#00e000" stroke-width="1.4"/>
<path d="M132.4,108.5 L138.8,108.5 L138.8,116.8 L143.3,116.8 L135.6,125.0 L127.8,116.8 L132.4,116.8 Z" fill="#00ff00" stroke="#00ff00" stroke-width="0"/>
<path d="M198.5,15.0 L206.1,24.5 L201.5,24.5 L201.5,31.9 L195.5,31.9 L195.5,24.5 L190.9,24.5 Z" fill="#ff0000"/>
<path d="M1272.6,513.6 L1278.9,520 L1266.3,520 Z" fill="#ff0000"/>
<rect x="3.4" y="613.4" width="4.7" height="98.4" fill="#ff3232"/>
<rect x="11.4" y="620.1" width="4.7" height="91.7" fill="#54ffff"/>
<rect x="19.4" y="631.9" width="4.7" height="79.9" fill="#54ffff"/>
<rect x="27.4" y="627.7" width="4.7" height="84.1" fill="#ff3232"/>
<rect x="35.4" y="632.7" width="4.7" height="79.1" fill="#ff3232"/>
<rect x="43.4" y="635.2" width="4.7" height="76.6" fill="#ff3232"/>
<rect x="51.4" y="609.7" width="4.7" height="102.1" fill="#ff3232"/>
<rect x="59.4" y="623.1" width="4.7" height="88.7" fill="#54ffff"/>
<rect x="67.4" y="631.9" width="4.7" height="79.9" fill="#ff3232"/>
<rect x="75.4" y="623.5" width="4.7" height="88.3" fill="#ff3232"/>
<rect x="83.4" y="603.7" width="4.7" height="108.1" fill="#ff3232"/>
<rect x="91.4" y="619.3" width="4.7" height="92.5" fill="#54ffff"/>
<rect x="99.4" y="629.0" width="4.7" height="82.8" fill="#54ffff"/>
<rect x="107.4" y="633.6" width="4.7" height="78.2" fill="#ff3232"/>
<rect x="115.4" y="636.9" width="4.7" height="74.9" fill="#54ffff"/>
<rect x="123.5" y="638.1" width="4.7" height="73.7" fill="#ff3232"/>
<rect x="131.5" y="638.1" width="4.7" height="73.7" fill="#ff3232"/>
<rect x="139.5" y="623.1" width="4.7" height="88.7" fill="#54ffff"/>
<rect x="147.5" y="634.4" width="4.7" height="77.4" fill="#54ffff"/>
<rect x="155.5" y="567.7" width="4.7" height="144.1" fill="#54ffff"/>
<rect x="163.5" y="614.7" width="4.7" height="97.1" fill="#ff3232"/>
<rect x="171.5" y="612.6" width="4.7" height="99.2" fill="#ff3232"/>
<rect x="179.5" y="626.0" width="4.7" height="85.8" fill="#54ffff"/>
<rect x="187.5" y="622.6" width="4.7" height="89.2" fill="#ff3232"/>
<rect x="195.5" y="630.5" width="4.7" height="81.3" fill="#ff3232"/>
<rect x="203.5" y="621.0" width="4.7" height="90.8" fill="#54ffff"/>
<rect x="211.5" y="631.9" width="4.7" height="79.9" fill="#ff3232"/>
<rect x="219.5" y="633.6" width="4.7" height="78.2" fill="#54ffff"/>
<rect x="227.5" y="638.1" width="4.7" height="73.7" fill="#ff3232"/>
<rect x="235.6" y="623.5" width="4.7" height="88.3" fill="#ff3232"/>
<rect x="243.6" y="618.8" width="4.7" height="93.0" fill="#ff3232"/>
<rect x="251.6" y="633.6" width="4.7" height="78.2" fill="#54ffff"/>
<rect x="259.6" y="644.2" width="4.7" height="67.6" fill="#54ffff"/>
<rect x="267.6" y="631.9" width="4.7" height="79.9" fill="#54ffff"/>
<rect x="275.6" y="632.7" width="4.7" height="79.1" fill="#54ffff"/>
<rect x="283.6" y="627.7" width="4.7" height="84.1" fill="#54ffff"/>
<rect x="291.6" y="627.7" width="4.7" height="84.1" fill="#ff3232"/>
<rect x="299.6" y="631.9" width="4.7" height="79.9" fill="#54ffff"/>
<rect x="307.6" y="642.8" width="4.7" height="69.0" fill="#ff3232"/>
<rect x="315.6" y="626.3" width="4.7" height="85.5" fill="#ff3232"/>
<rect x="323.6" y="644.2" width="4.7" height="67.6" fill="#ff3232"/>
<rect x="331.6" y="641.1" width="4.7" height="70.7" fill="#54ffff"/>
<rect x="339.6" y="642.8" width="4.7" height="69.0" fill="#54ffff"/>
<rect x="347.7" y="640.6" width="4.7" height="71.2" fill="#54ffff"/>
<rect x="355.7" y="638.6" width="4.7" height="73.2" fill="#ff3232"/>
<rect x="363.7" y="648.7" width="4.7" height="63.1" fill="#54ffff"/>
<rect x="371.7" y="638.6" width="4.7" height="73.2" fill="#ff3232"/>
<rect x="379.7" y="633.9" width="4.7" height="77.9" fill="#ff3232"/>
<rect x="387.7" y="647.3" width="4.7" height="64.5" fill="#54ffff"/>
<rect x="395.7" y="643.6" width="4.7" height="68.2" fill="#ff3232"/>
<rect x="403.7" y="642.8" width="4.7" height="69.0" fill="#54ffff"/>
<rect x="411.7" y="642.8" width="4.7" height="69.0" fill="#ff3232"/>
<rect x="419.7" y="645.3" width="4.7" height="66.5" fill="#ff3232"/>
<rect x="427.7" y="644.5" width="4.7" height="67.3" fill="#54ffff"/>
<rect x="435.7" y="651.7" width="4.7" height="60.1" fill="#54ffff"/>
<rect x="443.7" y="640.0" width="4.7" height="71.8" fill="#ff3232"/>
<rect x="451.7" y="624.8" width="4.7" height="87.0" fill="#ff3232"/>
<rect x="459.7" y="635.2" width="4.7" height="76.6" fill="#ff3232"/>
<rect x="467.8" y="629.4" width="4.7" height="82.4" fill="#54ffff"/>
<rect x="475.8" y="645.7" width="4.7" height="66.1" fill="#54ffff"/>
<rect x="483.8" y="644.2" width="4.7" height="67.6" fill="#54ffff"/>
<rect x="491.8" y="644.2" width="4.7" height="67.6" fill="#54ffff"/>
<rect x="499.8" y="641.1" width="4.7" height="70.7" fill="#54ffff"/>
<rect x="507.8" y="630.7" width="4.7" height="81.1" fill="#54ffff"/>
<rect x="515.8" y="638.6" width="4.7" height="73.2" fill="#ff3232"/>
<rect x="523.8" y="642.8" width="4.7" height="69.0" fill="#54ffff"/>
<rect x="531.8" y="651.7" width="4.7" height="60.1" fill="#ff3232"/>
<rect x="539.8" y="648.7" width="4.7" height="63.1" fill="#ff3232"/>
<rect x="547.8" y="648.7" width="4.7" height="63.1" fill="#ff3232"/>
<rect x="555.8" y="644.2" width="4.7" height="67.6" fill="#54ffff"/>
<rect x="563.8" y="641.1" width="4.7" height="70.7" fill="#54ffff"/>
<rect x="571.8" y="654.6" width="4.7" height="57.2" fill="#54ffff"/>
<rect x="579.9" y="651.7" width="4.7" height="60.1" fill="#ff3232"/>
<rect x="587.9" y="647.8" width="4.7" height="64.0" fill="#54ffff"/>
<rect x="595.9" y="650.0" width="4.7" height="61.8" fill="#ff3232"/>
<rect x="603.9" y="635.2" width="4.7" height="76.6" fill="#54ffff"/>
<rect x="611.9" y="591.6" width="4.7" height="120.2" fill="#54ffff"/>
<rect x="619.9" y="635.2" width="4.7" height="76.6" fill="#ff3232"/>
<rect x="627.9" y="630.2" width="4.7" height="81.6" fill="#54ffff"/>
<rect x="635.9" y="645.3" width="4.7" height="66.5" fill="#ff3232"/>
<rect x="643.9" y="647.0" width="4.7" height="64.8" fill="#54ffff"/>
<rect x="651.9" y="645.3" width="4.7" height="66.5" fill="#ff3232"/>
<rect x="659.9" y="644.2" width="4.7" height="67.6" fill="#54ffff"/>
<rect x="667.9" y="648.7" width="4.7" height="63.1" fill="#54ffff"/>
<rect x="675.9" y="647.0" width="4.7" height="64.8" fill="#ff3232"/>
<rect x="683.9" y="640.0" width="4.7" height="71.8" fill="#54ffff"/>
<rect x="692.0" y="636.6" width="4.7" height="75.2" fill="#ff3232"/>
<rect x="700.0" y="647.0" width="4.7" height="64.8" fill="#54ffff"/>
<rect x="708.0" y="645.3" width="4.7" height="66.5" fill="#54ffff"/>
<rect x="716.0" y="640.0" width="4.7" height="71.8" fill="#ff3232"/>
<rect x="724.0" y="647.0" width="4.7" height="64.8" fill="#ff3232"/>
<rect x="732.0" y="650.0" width="4.7" height="61.8" fill="#ff3232"/>
<rect x="740.0" y="647.0" width="4.7" height="64.8" fill="#54ffff"/>
<rect x="748.0" y="633.6" width="4.7" height="78.2" fill="#ff3232"/>
<rect x="756.0" y="648.7" width="4.7" height="63.1" fill="#54ffff"/>
<rect x="764.0" y="654.6" width="4.7" height="57.2" fill="#54ffff"/>
<rect x="772.0" y="656.2" width="4.7" height="55.6" fill="#54ffff"/>
<rect x="780.0" y="650.0" width="4.7" height="61.8" fill="#54ffff"/>
<rect x="788.0" y="651.7" width="4.7" height="60.1" fill="#54ffff"/>
<rect x="796.0" y="635.2" width="4.7" height="76.6" fill="#ff3232"/>
<rect x="804.0" y="620.1" width="4.7" height="91.7" fill="#ff3232"/>
<rect x="812.1" y="591.6" width="4.7" height="120.2" fill="#ff3232"/>
<rect x="820.1" y="623.1" width="4.7" height="88.7" fill="#54ffff"/>
<rect x="828.1" y="623.1" width="4.7" height="88.7" fill="#54ffff"/>
<rect x="836.1" y="634.9" width="4.7" height="76.9" fill="#54ffff"/>
<rect x="844.1" y="633.6" width="4.7" height="78.2" fill="#54ffff"/>
<rect x="852.1" y="648.7" width="4.7" height="63.1" fill="#ff3232"/>
<rect x="860.1" y="632.2" width="4.7" height="79.6" fill="#54ffff"/>
<rect x="868.1" y="620.1" width="4.7" height="91.7" fill="#54ffff"/>
<rect x="876.1" y="644.2" width="4.7" height="67.6" fill="#54ffff"/>
<rect x="884.1" y="642.8" width="4.7" height="69.0" fill="#54ffff"/>
<rect x="892.1" y="632.2" width="4.7" height="79.6" fill="#ff3232"/>
<rect x="900.1" y="633.9" width="4.7" height="77.9" fill="#54ffff"/>
<rect x="908.1" y="632.2" width="4.7" height="79.6" fill="#ff3232"/>
<rect x="916.1" y="647.0" width="4.7" height="64.8" fill="#ff3232"/>
<rect x="924.2" y="644.2" width="4.7" height="67.6" fill="#ff3232"/>
<rect x="932.2" y="653.2" width="4.7" height="58.6" fill="#ff3232"/>
<rect x="940.2" y="650.0" width="4.7" height="61.8" fill="#54ffff"/>
<rect x="948.2" y="650.0" width="4.7" height="61.8" fill="#ff3232"/>
<rect x="956.2" y="651.2" width="4.7" height="60.6" fill="#54ffff"/>
<rect x="964.2" y="653.2" width="4.7" height="58.6" fill="#ff3232"/>
<rect x="972.2" y="653.2" width="4.7" height="58.6" fill="#ff3232"/>
<rect x="980.2" y="662.1" width="4.7" height="49.7" fill="#54ffff"/>
<rect x="988.2" y="659.3" width="4.7" height="52.5" fill="#ff3232"/>
<rect x="996.2" y="657.9" width="4.7" height="53.9" fill="#ff3232"/>
<rect x="1004.2" y="641.1" width="4.7" height="70.7" fill="#ff3232"/>
<rect x="1012.2" y="648.7" width="4.7" height="63.1" fill="#54ffff"/>
<rect x="1020.2" y="659.3" width="4.7" height="52.5" fill="#54ffff"/>
<rect x="1028.2" y="654.6" width="4.7" height="57.2" fill="#54ffff"/>
<rect x="1036.3" y="653.2" width="4.7" height="58.6" fill="#54ffff"/>
<rect x="1044.3" y="657.9" width="4.7" height="53.9" fill="#ff3232"/>
<rect x="1052.3" y="653.2" width="4.7" height="58.6" fill="#ff3232"/>
<rect x="1060.3" y="655.9" width="4.7" height="55.9" fill="#54ffff"/>
<rect x="1068.3" y="659.3" width="4.7" height="52.5" fill="#54ffff"/>
<rect x="1076.3" y="654.6" width="4.7" height="57.2" fill="#ff3232"/>
<rect x="1084.3" y="655.9" width="4.7" height="55.9" fill="#54ffff"/>
<rect x="1092.3" y="659.3" width="4.7" height="52.5" fill="#54ffff"/>
<rect x="1100.3" y="663.8" width="4.7" height="48.0" fill="#54ffff"/>
<rect x="1108.3" y="654.6" width="4.7" height="57.2" fill="#ff3232"/>
<rect x="1116.3" y="660.4" width="4.7" height="51.4" fill="#54ffff"/>
<rect x="1124.3" y="665.2" width="4.7" height="46.6" fill="#54ffff"/>
<rect x="1132.3" y="650.0" width="4.7" height="61.8" fill="#ff3232"/>
<rect x="1140.3" y="636.6" width="4.7" height="75.2" fill="#ff3232"/>
<rect x="1148.4" y="654.6" width="4.7" height="57.2" fill="#54ffff"/>
<rect x="1156.4" y="629.4" width="4.7" height="82.4" fill="#ff3232"/>
<rect x="1164.4" y="653.2" width="4.7" height="58.6" fill="#ff3232"/>
<rect x="1172.4" y="638.1" width="4.7" height="73.7" fill="#ff3232"/>
<rect x="1180.4" y="644.2" width="4.7" height="67.6" fill="#54ffff"/>
<rect x="1188.4" y="642.8" width="4.7" height="69.0" fill="#ff3232"/>
<rect x="1196.4" y="633.9" width="4.7" height="77.9" fill="#54ffff"/>
<rect x="1204.4" y="650.4" width="4.7" height="61.4" fill="#ff3232"/>
<rect x="1212.4" y="651.7" width="4.7" height="60.1" fill="#ff3232"/>
<rect x="1220.4" y="608.0" width="4.7" height="103.8" fill="#54ffff"/>
<rect x="1228.4" y="621.8" width="4.7" height="90.0" fill="#ff3232"/>
<rect x="1236.4" y="648.7" width="4.7" height="63.1" fill="#54ffff"/>
<rect x="1244.4" y="648.7" width="4.7" height="63.1" fill="#54ffff"/>
<rect x="1252.4" y="642.8" width="4.7" height="69.0" fill="#54ffff"/>
<rect x="1260.4" y="645.7" width="4.7" height="66.1" fill="#54ffff"/>
<rect x="1268.5" y="633.6" width="4.7" height="78.2" fill="#ff3232"/>
<rect x="1276.5" y="600.8" width="4.7" height="111.0" fill="#ff3232"/>
<rect x="1284.5" y="618.8" width="4.7" height="93.0" fill="#54ffff"/>
<rect x="1292.5" y="628.5" width="4.7" height="83.3" fill="#ff3232"/>
<rect x="1300.5" y="626.3" width="4.7" height="85.5" fill="#ff3232"/>
<rect x="1308.5" y="627.7" width="4.7" height="84.1" fill="#54ffff"/>
<rect x="1316.5" y="641.1" width="4.7" height="70.7" fill="#54ffff"/>
<rect x="1324.5" y="624.8" width="4.7" height="87.0" fill="#ff3232"/>
<rect x="1332.5" y="617.1" width="4.7" height="94.7" fill="#ff3232"/>
<rect x="1340.5" y="606.7" width="4.7" height="105.1" fill="#54ffff"/>
<rect x="1348.5" y="593.2" width="4.7" height="118.6" fill="#ff3232"/>
<rect x="1356.5" y="611.7" width="4.7" height="100.1" fill="#54ffff"/>
<rect x="1364.5" y="626.3" width="4.7" height="85.5" fill="#54ffff"/>
<rect x="1372.5" y="620.1" width="4.7" height="91.7" fill="#54ffff"/>
<rect x="1380.6" y="627.7" width="4.7" height="84.1" fill="#54ffff"/>
<rect x="1388.6" y="630.7" width="4.7" height="81.1" fill="#54ffff"/>
<rect x="1396.6" y="620.1" width="4.7" height="91.7" fill="#ff3232"/>
<rect x="1404.6" y="581.1" width="4.7" height="130.7" fill="#ff3232"/>
<rect x="1412.6" y="587.0" width="4.7" height="124.8" fill="#54ffff"/>
<rect x="1420.6" y="602.0" width="4.7" height="109.8" fill="#ff3232"/>
<rect x="1428.6" y="585.7" width="4.7" height="126.1" fill="#ff3232"/>
<rect x="1436.6" y="590.2" width="4.7" height="121.6" fill="#ff3232"/>
<polyline points="5.7,613.4 13.7,618.4 21.7,625.2 29.7,626.8 37.7,632.7 45.7,633.2 53.7,631.0 61.7,627.7 69.8,626.8 77.8,624.9 85.8,624.0 93.8,623.9 101.8,623.6 109.8,624.2 117.8,624.6 125.8,624.9 133.8,627.7 141.8,627.7 149.8,628.0 157.8,622.4 165.8,623.5 173.8,622.8 181.9,622.5 189.9,621.4 197.9,620.8 205.9,619.1 213.9,618.5 221.9,619.5 229.9,619.9 237.9,625.5 245.9,625.9 253.9,628.0 261.9,629.8 269.9,630.7 277.9,630.9 285.9,631.6 294.0,631.2 302.0,631.0 310.0,631.5 318.0,631.8 326.0,634.3 334.0,635.0 342.0,634.9 350.0,635.8 358.0,636.4 366.0,638.5 374.0,639.6 382.0,639.8 390.0,640.2 398.0,641.9 406.0,641.8 414.1,642.0 422.1,642.2 430.1,642.6 438.1,643.9 446.1,643.0 454.1,641.7 462.1,641.8 470.1,640.0 478.1,640.2 486.1,640.4 494.1,640.5 502.1,640.1 510.1,638.7 518.1,637.4 526.2,637.7 534.2,640.4 542.2,641.7 550.2,643.6 558.2,643.5 566.2,643.2 574.2,644.2 582.2,645.3 590.2,647.0 598.2,648.1 606.2,647.4 614.2,641.4 622.2,640.0 630.2,638.2 638.3,638.3 646.3,638.9 654.3,637.9 662.3,637.2 670.3,637.3 678.3,637.0 686.3,637.5 694.3,642.0 702.3,643.1 710.3,644.6 718.3,644.1 726.3,644.1 734.3,644.6 742.3,644.9 750.4,643.4 758.4,643.5 766.4,645.0 774.4,646.9 782.4,647.2 790.4,647.9 798.4,647.4 806.4,644.7 814.4,638.9 822.4,636.5 830.4,635.4 838.4,634.1 846.4,632.0 854.4,631.2 862.4,629.4 870.5,626.3 878.5,627.2 886.5,629.4 894.5,633.5 902.5,634.6 910.5,635.5 918.5,636.7 926.5,637.8 934.5,638.2 942.5,640.0 950.5,643.0 958.5,643.7 966.5,644.7 974.5,646.8 982.6,649.6 990.6,652.3 998.6,653.4 1006.6,653.1 1014.6,652.7 1022.6,653.6 1030.6,654.1 1038.6,654.3 1046.6,654.7 1054.6,654.7 1062.6,654.1 1070.6,654.1 1078.6,653.8 1086.6,655.3 1094.7,656.3 1102.7,656.8 1110.7,656.8 1118.7,657.5 1126.7,658.2 1134.7,657.9 1142.7,656.0 1150.7,655.5 1158.7,653.0 1166.7,652.7 1174.7,650.6 1182.7,648.6 1190.7,647.5 1198.7,644.8 1206.8,643.3 1214.8,643.5 1222.8,640.6 1230.8,637.4 1238.8,639.3 1246.8,638.8 1254.8,639.3 1262.8,639.5 1270.8,638.5 1278.8,635.2 1286.8,632.1 1294.8,629.7 1302.8,631.6 1310.8,632.2 1318.8,631.4 1326.9,629.0 1334.9,626.4 1342.9,622.5 1350.9,618.5 1358.9,619.6 1366.9,620.3 1374.9,619.5 1382.9,619.6 1390.9,619.9 1398.9,617.8 1406.9,613.5 1414.9,610.5 1422.9,610.0 1430.9,609.2 1439.0,607.1" fill="none" stroke="#ffff00" stroke-width="1.3" stroke-linejoin="round" />
<polyline points="5.7,636.0 13.7,634.4 21.7,629.4 29.7,627.7 37.7,625.2 45.7,629.5 53.7,627.4 61.7,625.7 69.8,626.5 77.8,624.7 85.8,618.4 93.8,620.3 101.8,621.5 109.8,621.8 117.8,624.5 125.8,631.4 133.8,635.1 141.8,634.0 149.8,634.1 157.8,620.3 165.8,615.6 173.8,610.5 181.9,611.1 189.9,608.7 197.9,621.3 205.9,622.5 213.9,626.4 221.9,627.9 229.9,631.0 237.9,629.6 245.9,629.2 253.9,629.5 261.9,631.6 269.9,630.4 277.9,632.2 285.9,634.0 294.0,632.8 302.0,630.4 310.0,632.6 318.0,631.3 326.0,634.6 334.0,637.3 342.0,639.4 350.0,639.0 358.0,641.5 366.0,642.4 374.0,641.9 382.0,640.1 390.0,641.4 398.0,642.4 406.0,641.2 414.1,642.1 422.1,644.4 430.1,643.8 438.1,645.4 446.1,644.9 454.1,641.3 462.1,639.2 470.1,636.2 478.1,635.0 486.1,635.9 494.1,639.7 502.1,640.9 510.1,641.2 518.1,639.8 526.2,639.5 534.2,641.0 542.2,642.5 550.2,646.1 558.2,647.2 566.2,646.9 574.2,647.5 582.2,648.1 590.2,647.9 598.2,649.0 606.2,647.9 614.2,635.3 622.2,632.0 630.2,628.4 638.3,627.5 646.3,629.9 654.3,640.6 662.3,642.4 670.3,646.1 678.3,646.4 686.3,645.0 694.3,643.3 702.3,643.9 710.3,643.2 718.3,641.8 726.3,643.2 734.3,645.9 742.3,645.9 750.4,643.5 758.4,645.3 766.4,646.8 774.4,648.0 782.4,648.6 790.4,652.2 798.4,649.5 806.4,642.6 814.4,629.7 822.4,624.3 830.4,618.6 838.4,618.6 846.4,621.3 854.4,632.7 862.4,634.5 870.5,633.9 878.5,635.8 886.5,637.6 894.5,634.3 902.5,634.6 910.5,637.1 918.5,637.6 926.5,637.9 934.5,642.1 942.5,645.3 950.5,648.9 958.5,649.7 966.5,651.5 974.5,651.5 982.6,653.9 990.6,655.8 998.6,657.1 1006.6,654.7 1014.6,653.8 1022.6,653.3 1030.6,652.3 1038.6,651.4 1046.6,654.7 1054.6,655.6 1062.6,655.0 1070.6,655.9 1078.6,656.2 1086.6,655.8 1094.7,657.0 1102.7,658.6 1110.7,657.6 1118.7,658.8 1126.7,660.7 1134.7,658.8 1142.7,653.4 1150.7,653.4 1158.7,647.2 1166.7,644.8 1174.7,642.4 1182.7,643.9 1190.7,641.5 1198.7,642.4 1206.8,641.9 1214.8,644.6 1222.8,637.4 1230.8,633.2 1238.8,636.1 1246.8,635.8 1254.8,634.0 1262.8,641.5 1270.8,643.9 1278.8,634.3 1286.8,628.3 1294.8,625.5 1302.8,621.6 1310.8,620.4 1318.8,628.5 1326.9,629.7 1334.9,627.4 1342.9,623.5 1350.9,616.6 1358.9,610.7 1366.9,611.0 1374.9,611.6 1382.9,615.8 1390.9,623.3 1398.9,625.0 1406.9,615.9 1414.9,609.3 1422.9,604.2 1430.9,595.2 1439.0,589.2" fill="none" stroke="#f4f4f4" stroke-width="1.25" stroke-linejoin="round" />
<line x1="5.7" x2="5.7" y1="792.4" y2="814.8" stroke="#48e0e0" stroke-width="1.8"/>
<line x1="13.7" x2="13.7" y1="792.4" y2="804.7" stroke="#48e0e0" stroke-width="1.8"/>
<line x1="21.7" x2="21.7" y1="792.4" y2="801.8" stroke="#48e0e0" stroke-width="1.8"/>
<line x1="29.7" x2="29.7" y1="792.4" y2="797.5" stroke="#48e0e0" stroke-width="1.8"/>
<line x1="37.7" x2="37.7" y1="792.4" y2="795.4" stroke="#48e0e0" stroke-width="1.8"/>
<line x1="53.7" x2="53.7" y1="792.4" y2="788.7" stroke="#f03030" stroke-width="1.8"/>
<line x1="61.7" x2="61.7" y1="792.4" y2="785.4" stroke="#f03030" stroke-width="1.8"/>
<line x1="69.8" x2="69.8" y1="792.4" y2="781.2" stroke="#f03030" stroke-width="1.8"/>
<line x1="77.8" x2="77.8" y1="792.4" y2="776.6" stroke="#f03030" stroke-width="1.8"/>
<line x1="85.8" x2="85.8" y1="792.4" y2="770.6" stroke="#f03030" stroke-width="1.8"/>
<line x1="93.8" x2="93.8" y1="792.4" y2="770.6" stroke="#f03030" stroke-width="1.8"/>
<line x1="101.8" x2="101.8" y1="792.4" y2="773.6" stroke="#f03030" stroke-width="1.8"/>
<line x1="109.8" x2="109.8" y1="792.4" y2="774.9" stroke="#f03030" stroke-width="1.8"/>
<line x1="117.8" x2="117.8" y1="792.4" y2="779.5" stroke="#f03030" stroke-width="1.8"/>
<line x1="125.8" x2="125.8" y1="792.4" y2="782.5" stroke="#f03030" stroke-width="1.8"/>
<line x1="133.8" x2="133.8" y1="792.4" y2="782.5" stroke="#f03030" stroke-width="1.8"/>
<line x1="141.8" x2="141.8" y1="792.4" y2="784.0" stroke="#f03030" stroke-width="1.8"/>
<line x1="149.8" x2="149.8" y1="792.4" y2="787.4" stroke="#f03030" stroke-width="1.8"/>
<line x1="157.8" x2="157.8" y1="792.4" y2="801.8" stroke="#48e0e0" stroke-width="1.8"/>
<line x1="165.8" x2="165.8" y1="792.4" y2="814.8" stroke="#48e0e0" stroke-width="1.8"/>
<line x1="173.8" x2="173.8" y1="792.4" y2="816.9" stroke="#48e0e0" stroke-width="1.8"/>
<line x1="181.9" x2="181.9" y1="792.4" y2="821.5" stroke="#48e0e0" stroke-width="1.8"/>
<line x1="189.9" x2="189.9" y1="792.4" y2="818.1" stroke="#48e0e0" stroke-width="1.8"/>
<line x1="197.9" x2="197.9" y1="792.4" y2="812.2" stroke="#48e0e0" stroke-width="1.8"/>
<line x1="205.9" x2="205.9" y1="792.4" y2="807.7" stroke="#48e0e0" stroke-width="1.8"/>
<line x1="213.9" x2="213.9" y1="792.4" y2="807.7" stroke="#48e0e0" stroke-width="1.8"/>
<line x1="221.9" x2="221.9" y1="792.4" y2="806.4" stroke="#48e0e0" stroke-width="1.8"/>
<line x1="229.9" x2="229.9" y1="792.4" y2="803.3" stroke="#48e0e0" stroke-width="1.8"/>
<line x1="245.9" x2="245.9" y1="792.4" y2="784.0" stroke="#f03030" stroke-width="1.8"/>
<line x1="253.9" x2="253.9" y1="792.4" y2="781.2" stroke="#f03030" stroke-width="1.8"/>
<line x1="261.9" x2="261.9" y1="792.4" y2="782.5" stroke="#f03030" stroke-width="1.8"/>
<line x1="269.9" x2="269.9" y1="792.4" y2="790.1" stroke="#f03030" stroke-width="1.8"/>
<line x1="277.9" x2="277.9" y1="792.4" y2="798.8" stroke="#48e0e0" stroke-width="1.8"/>
<line x1="285.9" x2="285.9" y1="792.4" y2="800.1" stroke="#48e0e0" stroke-width="1.8"/>
<line x1="294.0" x2="294.0" y1="792.4" y2="795.8" stroke="#48e0e0" stroke-width="1.8"/>
<line x1="302.0" x2="302.0" y1="792.4" y2="798.8" stroke="#48e0e0" stroke-width="1.8"/>
<line x1="310.0" x2="310.0" y1="792.4" y2="800.1" stroke="#48e0e0" stroke-width="1.8"/>
<line x1="326.0" x2="326.0" y1="792.4" y2="788.7" stroke="#f03030" stroke-width="1.8"/>
<line x1="350.0" x2="350.0" y1="792.4" y2="790.1" stroke="#f03030" stroke-width="1.8"/>
<line x1="358.0" x2="358.0" y1="792.4" y2="787.0" stroke="#f03030" stroke-width="1.8"/>
<line x1="366.0" x2="366.0" y1="792.4" y2="785.4" stroke="#f03030" stroke-width="1.8"/>
<line x1="374.0" x2="374.0" y1="792.4" y2="778.1" stroke="#f03030" stroke-width="1.8"/>
<line x1="382.0" x2="382.0" y1="792.4" y2="770.6" stroke="#f03030" stroke-width="1.8"/>
<line x1="390.0" x2="390.0" y1="792.4" y2="766.0" stroke="#f03030" stroke-width="1.8"/>
<line x1="398.0" x2="398.0" y1="792.4" y2="763.2" stroke="#f03030" stroke-width="1.8"/>
<line x1="406.0" x2="406.0" y1="792.4" y2="763.2" stroke="#f03030" stroke-width="1.8"/>
<line x1="414.1" x2="414.1" y1="792.4" y2="763.2" stroke="#f03030" stroke-width="1.8"/>
<line x1="422.1" x2="422.1" y1="792.4" y2="761.5" stroke="#f03030" stroke-width="1.8"/>
<line x1="430.1" x2="430.1" y1="792.4" y2="766.0" stroke="#f03030" stroke-width="1.8"/>
<line x1="438.1" x2="438.1" y1="792.4" y2="770.6" stroke="#f03030" stroke-width="1.8"/>
<line x1="446.1" x2="446.1" y1="792.4" y2="770.6" stroke="#f03030" stroke-width="1.8"/>
<line x1="454.1" x2="454.1" y1="792.4" y2="767.7" stroke="#f03030" stroke-width="1.8"/>
<line x1="462.1" x2="462.1" y1="792.4" y2="767.7" stroke="#f03030" stroke-width="1.8"/>
<line x1="470.1" x2="470.1" y1="792.4" y2="774.9" stroke="#f03030" stroke-width="1.8"/>
<line x1="478.1" x2="478.1" y1="792.4" y2="782.5" stroke="#f03030" stroke-width="1.8"/>
<line x1="486.1" x2="486.1" y1="792.4" y2="789.7" stroke="#f03030" stroke-width="1.8"/>
<line x1="494.1" x2="494.1" y1="792.4" y2="794.1" stroke="#48e0e0" stroke-width="1.8"/>
<line x1="502.1" x2="502.1" y1="792.4" y2="800.1" stroke="#48e0e0" stroke-width="1.8"/>
<line x1="510.1" x2="510.1" y1="792.4" y2="813.9" stroke="#48e0e0" stroke-width="1.8"/>
<line x1="518.1" x2="518.1" y1="792.4" y2="813.9" stroke="#48e0e0" stroke-width="1.8"/>
<line x1="526.2" x2="526.2" y1="792.4" y2="815.3" stroke="#48e0e0" stroke-width="1.8"/>
<line x1="534.2" x2="534.2" y1="792.4" y2="812.2" stroke="#48e0e0" stroke-width="1.8"/>
<line x1="542.2" x2="542.2" y1="792.4" y2="806.4" stroke="#48e0e0" stroke-width="1.8"/>
<line x1="550.2" x2="550.2" y1="792.4" y2="801.8" stroke="#48e0e0" stroke-width="1.8"/>
<line x1="558.2" x2="558.2" y1="792.4" y2="798.8" stroke="#48e0e0" stroke-width="1.8"/>
<line x1="566.2" x2="566.2" y1="792.4" y2="801.8" stroke="#48e0e0" stroke-width="1.8"/>
<line x1="574.2" x2="574.2" y1="792.4" y2="806.4" stroke="#48e0e0" stroke-width="1.8"/>
<line x1="582.2" x2="582.2" y1="792.4" y2="803.3" stroke="#48e0e0" stroke-width="1.8"/>
<line x1="590.2" x2="590.2" y1="792.4" y2="804.7" stroke="#48e0e0" stroke-width="1.8"/>
<line x1="598.2" x2="598.2" y1="792.4" y2="804.7" stroke="#48e0e0" stroke-width="1.8"/>
<line x1="606.2" x2="606.2" y1="792.4" y2="807.7" stroke="#48e0e0" stroke-width="1.8"/>
<line x1="614.2" x2="614.2" y1="792.4" y2="822.7" stroke="#48e0e0" stroke-width="1.8"/>
<line x1="622.2" x2="622.2" y1="792.4" y2="830.2" stroke="#48e0e0" stroke-width="1.8"/>
<line x1="630.2" x2="630.2" y1="792.4" y2="837.4" stroke="#48e0e0" stroke-width="1.8"/>
<line x1="638.3" x2="638.3" y1="792.4" y2="836.1" stroke="#48e0e0" stroke-width="1.8"/>
<line x1="646.3" x2="646.3" y1="792.4" y2="837.4" stroke="#48e0e0" stroke-width="1.8"/>
<line x1="654.3" x2="654.3" y1="792.4" y2="836.1" stroke="#48e0e0" stroke-width="1.8"/>
<line x1="662.3" x2="662.3" y1="792.4" y2="837.4" stroke="#48e0e0" stroke-width="1.8"/>
<line x1="670.3" x2="670.3" y1="792.4" y2="837.4" stroke="#48e0e0" stroke-width="1.8"/>
<line x1="678.3" x2="678.3" y1="792.4" y2="825.7" stroke="#48e0e0" stroke-width="1.8"/>
<line x1="686.3" x2="686.3" y1="792.4" y2="825.7" stroke="#48e0e0" stroke-width="1.8"/>
<line x1="694.3" x2="694.3" y1="792.4" y2="821.5" stroke="#48e0e0" stroke-width="1.8"/>
<line x1="702.3" x2="702.3" y1="792.4" y2="818.1" stroke="#48e0e0" stroke-width="1.8"/>
<line x1="710.3" x2="710.3" y1="792.4" y2="818.1" stroke="#48e0e0" stroke-width="1.8"/>
<line x1="718.3" x2="718.3" y1="792.4" y2="812.2" stroke="#48e0e0" stroke-width="1.8"/>
<line x1="726.3" x2="726.3" y1="792.4" y2="797.1" stroke="#48e0e0" stroke-width="1.8"/>
<line x1="734.3" x2="734.3" y1="792.4" y2="785.4" stroke="#f03030" stroke-width="1.8"/>
<line x1="742.3" x2="742.3" y1="792.4" y2="784.0" stroke="#f03030" stroke-width="1.8"/>
<line x1="750.4" x2="750.4" y1="792.4" y2="773.6" stroke="#f03030" stroke-width="1.8"/>
<line x1="758.4" x2="758.4" y1="792.4" y2="766.0" stroke="#f03030" stroke-width="1.8"/>
<line x1="766.4" x2="766.4" y1="792.4" y2="764.7" stroke="#f03030" stroke-width="1.8"/>
<line x1="774.4" x2="774.4" y1="792.4" y2="766.0" stroke="#f03030" stroke-width="1.8"/>
<line x1="782.4" x2="782.4" y1="792.4" y2="769.1" stroke="#f03030" stroke-width="1.8"/>
<line x1="790.4" x2="790.4" y1="792.4" y2="771.9" stroke="#f03030" stroke-width="1.8"/>
<line x1="798.4" x2="798.4" y1="792.4" y2="767.7" stroke="#f03030" stroke-width="1.8"/>
<line x1="806.4" x2="806.4" y1="792.4" y2="760.2" stroke="#f03030" stroke-width="1.8"/>
<line x1="814.4" x2="814.4" y1="792.4" y2="749.6" stroke="#f03030" stroke-width="1.8"/>
<line x1="822.4" x2="822.4" y1="792.4" y2="745.0" stroke="#f03030" stroke-width="1.8"/>
<line x1="830.4" x2="830.4" y1="792.4" y2="746.4" stroke="#f03030" stroke-width="1.8"/>
<line x1="838.4" x2="838.4" y1="792.4" y2="750.9" stroke="#f03030" stroke-width="1.8"/>
<line x1="846.4" x2="846.4" y1="792.4" y2="755.5" stroke="#f03030" stroke-width="1.8"/>
<line x1="854.4" x2="854.4" y1="792.4" y2="758.5" stroke="#f03030" stroke-width="1.8"/>
<line x1="862.4" x2="862.4" y1="792.4" y2="769.1" stroke="#f03030" stroke-width="1.8"/>
<line x1="870.5" x2="870.5" y1="792.4" y2="784.0" stroke="#f03030" stroke-width="1.8"/>
<line x1="878.5" x2="878.5" y1="792.4" y2="795.4" stroke="#48e0e0" stroke-width="1.8"/>
<line x1="886.5" x2="886.5" y1="792.4" y2="809.2" stroke="#48e0e0" stroke-width="1.8"/>
<line x1="894.5" x2="894.5" y1="792.4" y2="804.7" stroke="#48e0e0" stroke-width="1.8"/>
<line x1="902.5" x2="902.5" y1="792.4" y2="806.4" stroke="#48e0e0" stroke-width="1.8"/>
<line x1="910.5" x2="910.5" y1="792.4" y2="798.8" stroke="#48e0e0" stroke-width="1.8"/>
<line x1="918.5" x2="918.5" y1="792.4" y2="794.1" stroke="#48e0e0" stroke-width="1.8"/>
<line x1="942.5" x2="942.5" y1="792.4" y2="795.4" stroke="#48e0e0" stroke-width="1.8"/>
<line x1="950.5" x2="950.5" y1="792.4" y2="801.8" stroke="#48e0e0" stroke-width="1.8"/>
<line x1="958.5" x2="958.5" y1="792.4" y2="809.2" stroke="#48e0e0" stroke-width="1.8"/>
<line x1="966.5" x2="966.5" y1="792.4" y2="807.7" stroke="#48e0e0" stroke-width="1.8"/>
<line x1="974.5" x2="974.5" y1="792.4" y2="801.8" stroke="#48e0e0" stroke-width="1.8"/>
<line x1="982.6" x2="982.6" y1="792.4" y2="798.8" stroke="#48e0e0" stroke-width="1.8"/>
<line x1="990.6" x2="990.6" y1="792.4" y2="794.1" stroke="#48e0e0" stroke-width="1.8"/>
<line x1="1006.6" x2="1006.6" y1="792.4" y2="782.5" stroke="#f03030" stroke-width="1.8"/>
<line x1="1014.6" x2="1014.6" y1="792.4" y2="776.6" stroke="#f03030" stroke-width="1.8"/>
<line x1="1022.6" x2="1022.6" y1="792.4" y2="773.6" stroke="#f03030" stroke-width="1.8"/>
<line x1="1030.6" x2="1030.6" y1="792.4" y2="778.1" stroke="#f03030" stroke-width="1.8"/>
<line x1="1038.6" x2="1038.6" y1="792.4" y2="781.2" stroke="#f03030" stroke-width="1.8"/>
<line x1="1046.6" x2="1046.6" y1="792.4" y2="785.4" stroke="#f03030" stroke-width="1.8"/>
<line x1="1054.6" x2="1054.6" y1="792.4" y2="782.5" stroke="#f03030" stroke-width="1.8"/>
<line x1="1062.6" x2="1062.6" y1="792.4" y2="788.7" stroke="#f03030" stroke-width="1.8"/>
<line x1="1086.6" x2="1086.6" y1="792.4" y2="797.1" stroke="#48e0e0" stroke-width="1.8"/>
<line x1="1094.7" x2="1094.7" y1="792.4" y2="800.1" stroke="#48e0e0" stroke-width="1.8"/>
<line x1="1102.7" x2="1102.7" y1="792.4" y2="801.8" stroke="#48e0e0" stroke-width="1.8"/>
<line x1="1110.7" x2="1110.7" y1="792.4" y2="798.8" stroke="#48e0e0" stroke-width="1.8"/>
<line x1="1118.7" x2="1118.7" y1="792.4" y2="795.8" stroke="#48e0e0" stroke-width="1.8"/>
<line x1="1126.7" x2="1126.7" y1="792.4" y2="797.1" stroke="#48e0e0" stroke-width="1.8"/>
<line x1="1142.7" x2="1142.7" y1="792.4" y2="784.0" stroke="#f03030" stroke-width="1.8"/>
<line x1="1150.7" x2="1150.7" y1="792.4" y2="779.5" stroke="#f03030" stroke-width="1.8"/>
<line x1="1158.7" x2="1158.7" y1="792.4" y2="767.7" stroke="#f03030" stroke-width="1.8"/>
<line x1="1166.7" x2="1166.7" y1="792.4" y2="763.2" stroke="#f03030" stroke-width="1.8"/>
<line x1="1174.7" x2="1174.7" y1="792.4" y2="758.5" stroke="#f03030" stroke-width="1.8"/>
<line x1="1182.7" x2="1182.7" y1="792.4" y2="758.5" stroke="#f03030" stroke-width="1.8"/>
<line x1="1190.7" x2="1190.7" y1="792.4" y2="756.8" stroke="#f03030" stroke-width="1.8"/>
<line x1="1198.7" x2="1198.7" y1="792.4" y2="770.6" stroke="#f03030" stroke-width="1.8"/>
<line x1="1206.8" x2="1206.8" y1="792.4" y2="781.2" stroke="#f03030" stroke-width="1.8"/>
<line x1="1214.8" x2="1214.8" y1="792.4" y2="787.0" stroke="#f03030" stroke-width="1.8"/>
<line x1="1222.8" x2="1222.8" y1="792.4" y2="809.2" stroke="#48e0e0" stroke-width="1.8"/>
<line x1="1230.8" x2="1230.8" y1="792.4" y2="819.8" stroke="#48e0e0" stroke-width="1.8"/>
<line x1="1238.8" x2="1238.8" y1="792.4" y2="830.2" stroke="#48e0e0" stroke-width="1.8"/>
<line x1="1246.8" x2="1246.8" y1="792.4" y2="837.4" stroke="#48e0e0" stroke-width="1.8"/>
<line x1="1254.8" x2="1254.8" y1="792.4" y2="837.4" stroke="#48e0e0" stroke-width="1.8"/>
<line x1="1262.8" x2="1262.8" y1="792.4" y2="845.0" stroke="#48e0e0" stroke-width="1.8"/>
<line x1="1270.8" x2="1270.8" y1="792.4" y2="837.4" stroke="#48e0e0" stroke-width="1.8"/>
<line x1="1278.8" x2="1278.8" y1="792.4" y2="815.3" stroke="#48e0e0" stroke-width="1.8"/>
<line x1="1286.8" x2="1286.8" y1="792.4" y2="807.7" stroke="#48e0e0" stroke-width="1.8"/>
<line x1="1294.8" x2="1294.8" y1="792.4" y2="800.1" stroke="#48e0e0" stroke-width="1.8"/>
<line x1="1302.8" x2="1302.8" y1="792.4" y2="794.1" stroke="#48e0e0" stroke-width="1.8"/>
<line x1="1318.8" x2="1318.8" y1="792.4" y2="795.4" stroke="#48e0e0" stroke-width="1.8"/>
<line x1="1326.9" x2="1326.9" y1="792.4" y2="794.1" stroke="#48e0e0" stroke-width="1.8"/>
<line x1="1334.9" x2="1334.9" y1="792.4" y2="790.1" stroke="#f03030" stroke-width="1.8"/>
<line x1="1342.9" x2="1342.9" y1="792.4" y2="784.0" stroke="#f03030" stroke-width="1.8"/>
<line x1="1350.9" x2="1350.9" y1="792.4" y2="771.9" stroke="#f03030" stroke-width="1.8"/>
<line x1="1358.9" x2="1358.9" y1="792.4" y2="766.0" stroke="#f03030" stroke-width="1.8"/>
<line x1="1366.9" x2="1366.9" y1="792.4" y2="763.2" stroke="#f03030" stroke-width="1.8"/>
<line x1="1374.9" x2="1374.9" y1="792.4" y2="766.0" stroke="#f03030" stroke-width="1.8"/>
<line x1="1382.9" x2="1382.9" y1="792.4" y2="769.1" stroke="#f03030" stroke-width="1.8"/>
<line x1="1390.9" x2="1390.9" y1="792.4" y2="776.6" stroke="#f03030" stroke-width="1.8"/>
<line x1="1398.9" x2="1398.9" y1="792.4" y2="778.1" stroke="#f03030" stroke-width="1.8"/>
<line x1="1406.9" x2="1406.9" y1="792.4" y2="776.6" stroke="#f03030" stroke-width="1.8"/>
<line x1="1414.9" x2="1414.9" y1="792.4" y2="778.1" stroke="#f03030" stroke-width="1.8"/>
<line x1="1422.9" x2="1422.9" y1="792.4" y2="774.9" stroke="#f03030" stroke-width="1.8"/>
<line x1="1430.9" x2="1430.9" y1="792.4" y2="773.6" stroke="#f03030" stroke-width="1.8"/>
<line x1="1439.0" x2="1439.0" y1="792.4" y2="769.1" stroke="#f03030" stroke-width="1.8"/>
<polyline points="5.7,830.7 13.7,832.4 21.7,834.1 29.7,834.1 37.7,835.8 45.7,835.8 53.7,834.4 61.7,834.4 69.8,832.4 77.8,829.0 85.8,826.0 93.8,823.2 101.8,821.5 109.8,818.6 117.8,817.3 125.8,815.6 133.8,814.3 141.8,812.7 149.8,812.7 157.8,812.7 165.8,816.4 173.8,819.0 181.9,822.3 189.9,826.0 197.9,829.4 205.9,830.7 213.9,832.4 221.9,834.1 229.9,835.8 237.9,835.8 245.9,835.8 253.9,832.4 261.9,832.4 269.9,830.7 277.9,832.4 285.9,832.4 294.0,834.1 302.0,834.1 310.0,835.8 318.0,835.8 326.0,835.4 334.0,834.1 342.0,834.1 350.0,834.1 358.0,832.4 366.0,832.4 374.0,829.9 382.0,827.4 390.0,824.0 398.0,820.6 406.0,816.4 414.1,812.6 422.1,808.0 430.1,805.5 438.1,802.2 446.1,799.6 454.1,796.3 462.1,792.9 470.1,790.1 478.1,788.7 486.1,788.7 494.1,789.6 502.1,790.1 510.1,792.4 518.1,794.6 526.2,798.0 534.2,800.5 542.2,802.5 550.2,803.8 558.2,803.8 566.2,806.4 574.2,808.4 582.2,808.4 590.2,810.6 598.2,812.6 606.2,814.8 614.2,819.0 622.2,823.2 630.2,828.2 638.3,834.1 646.3,839.1 654.3,845.0 662.3,850.0 670.3,855.1 678.3,860.1 686.3,864.8 694.3,868.5 702.3,871.4 710.3,875.8 718.3,878.1 726.3,879.1 734.3,877.4 742.3,875.8 750.4,872.7 758.4,869.7 766.4,866.5 774.4,863.5 782.4,860.6 790.4,857.6 798.4,855.1 806.4,851.4 814.4,845.0 822.4,839.1 830.4,832.9 838.4,825.7 846.4,821.5 854.4,818.1 862.4,814.3 870.5,814.3 878.5,814.3 886.5,816.4 894.5,817.3 902.5,820.6 910.5,820.6 918.5,821.0 926.5,821.0 934.5,820.6 942.5,821.0 950.5,822.3 958.5,825.3 966.5,826.9 974.5,828.2 982.6,828.2 990.6,829.9 998.6,829.0 1006.6,827.4 1014.6,824.5 1022.6,821.8 1030.6,820.3 1038.6,819.0 1046.6,817.6 1054.6,817.6 1062.6,815.9 1070.6,815.9 1078.6,815.9 1086.6,816.4 1094.7,817.6 1102.7,819.0 1110.7,820.6 1118.7,820.6 1126.7,820.6 1134.7,820.6 1142.7,819.0 1150.7,817.6 1158.7,814.8 1166.7,811.4 1174.7,807.2 1182.7,803.8 1190.7,797.1 1198.7,794.6 1206.8,793.6 1214.8,792.4 1222.8,794.6 1230.8,798.0 1238.8,803.8 1246.8,808.9 1254.8,813.1 1262.8,820.6 1270.8,826.5 1278.8,829.9 1286.8,831.2 1294.8,832.4 1302.8,832.4 1310.8,832.4 1318.8,832.4 1326.9,832.4 1334.9,832.1 1342.9,830.7 1350.9,827.7 1358.9,823.5 1366.9,820.3 1374.9,817.3 1382.9,814.3 1390.9,812.7 1398.9,809.7 1406.9,808.0 1414.9,805.5 1422.9,803.8 1430.9,800.8 1439.0,798.0" fill="none" stroke="#ffff00" stroke-width="1.4" stroke-linejoin="round" />
<polyline points="5.7,843.3 13.7,840.5 21.7,838.8 29.7,837.1 37.7,837.1 45.7,835.4 53.7,831.6 61.7,829.4 69.8,825.7 77.8,819.8 85.8,815.6 93.8,811.4 101.8,811.4 109.8,809.7 117.8,809.7 125.8,809.7 133.8,808.4 141.8,808.4 149.8,808.4 157.8,818.1 165.8,828.2 173.8,832.4 181.9,838.3 189.9,840.3 197.9,838.8 205.9,838.8 213.9,840.3 221.9,841.6 229.9,841.6 237.9,835.8 245.9,829.4 253.9,826.5 261.9,826.5 269.9,829.9 277.9,835.4 285.9,837.1 294.0,835.4 302.0,838.8 310.0,840.3 318.0,836.6 326.0,832.4 334.0,834.1 342.0,832.4 350.0,832.4 358.0,829.9 366.0,828.2 374.0,822.3 382.0,815.6 390.0,809.7 398.0,804.7 406.0,801.3 414.1,798.0 422.1,792.9 430.1,790.4 438.1,790.4 446.1,787.0 454.1,784.0 462.1,779.8 470.1,781.2 478.1,784.0 486.1,787.0 494.1,790.4 502.1,794.6 510.1,803.0 518.1,806.4 526.2,809.7 534.2,811.4 542.2,809.7 550.2,808.4 558.2,808.4 566.2,811.4 574.2,814.3 582.2,814.3 590.2,817.3 598.2,819.0 606.2,821.5 614.2,831.6 622.2,839.1 630.2,852.2 638.3,856.8 646.3,862.6 654.3,868.5 662.3,872.7 670.3,878.6 678.3,877.4 686.3,881.6 694.3,883.3 702.3,884.8 710.3,887.8 718.3,887.8 726.3,880.3 734.3,874.1 742.3,870.2 750.4,862.6 758.4,855.6 766.4,852.2 774.4,849.2 782.4,847.5 790.4,847.5 798.4,841.6 806.4,832.9 814.4,821.5 822.4,813.9 830.4,808.0 838.4,805.5 846.4,802.5 854.4,800.5 862.4,803.0 870.5,808.9 878.5,816.4 886.5,824.8 894.5,825.7 902.5,827.0 910.5,824.8 918.5,822.3 926.5,820.6 934.5,818.6 942.5,822.3 950.5,826.5 958.5,832.4 966.5,834.1 974.5,832.4 982.6,832.4 990.6,830.7 998.6,827.4 1006.6,821.1 1014.6,815.6 1022.6,813.1 1030.6,813.1 1038.6,813.1 1046.6,813.1 1054.6,811.7 1062.6,813.1 1070.6,815.6 1078.6,816.4 1086.6,819.0 1094.7,822.0 1102.7,823.5 1110.7,823.5 1118.7,822.0 1126.7,823.5 1134.7,819.8 1142.7,813.9 1150.7,811.4 1158.7,800.5 1166.7,793.8 1174.7,788.7 1182.7,784.2 1190.7,778.6 1198.7,782.8 1206.8,785.7 1214.8,788.7 1222.8,801.3 1230.8,811.4 1238.8,822.3 1246.8,832.1 1254.8,836.6 1262.8,845.8 1270.8,849.2 1278.8,840.5 1286.8,838.3 1294.8,836.6 1302.8,833.6 1310.8,831.2 1318.8,833.6 1326.9,833.6 1334.9,829.4 1342.9,826.5 1350.9,817.3 1358.9,808.9 1366.9,805.5 1374.9,803.8 1382.9,802.5 1390.9,803.8 1398.9,802.5 1406.9,799.3 1414.9,798.0 1422.9,794.6 1430.9,790.1 1439.0,785.4" fill="none" stroke="#f4f4f4" stroke-width="1.25" stroke-linejoin="round" />
<rect x="2" y="537.6" width="1502" height="2.1" fill="#b80000"/>
<rect x="2" y="712.9" width="1502" height="2.1" fill="#a00000"/>
<rect x="2" y="889.8" width="1502" height="2.7" fill="#b80000"/>
<rect x="1467.3" y="10" width="2.7" height="883" fill="#b80000"/>
<rect x="1470" y="690.2" width="34" height="2" fill="#b80000"/>
<rect x="1470" y="81.1" width="7" height="1.4" fill="#b80000"/>
<rect x="1470" y="106.3" width="2.5" height="1.4" fill="#b80000"/>
<rect x="1470" y="131.6" width="7" height="1.4" fill="#b80000"/>
<rect x="1470" y="156.8" width="2.5" height="1.4" fill="#b80000"/>
<rect x="1470" y="182.0" width="7" height="1.4" fill="#b80000"/>
<rect x="1470" y="207.2" width="2.5" height="1.4" fill="#b80000"/>
<rect x="1470" y="232.5" width="7" height="1.4" fill="#b80000"/>
<rect x="1470" y="257.7" width="2.5" height="1.4" fill="#b80000"/>
<rect x="1470" y="282.9" width="7" height="1.4" fill="#b80000"/>
<rect x="1470" y="308.1" width="2.5" height="1.4" fill="#b80000"/>
<rect x="1470" y="333.4" width="7" height="1.4" fill="#b80000"/>
<rect x="1470" y="358.6" width="2.5" height="1.4" fill="#b80000"/>
<rect x="1470" y="383.8" width="7" height="1.4" fill="#b80000"/>
<rect x="1470" y="409.0" width="2.5" height="1.4" fill="#b80000"/>
<rect x="1470" y="434.3" width="7" height="1.4" fill="#b80000"/>
<rect x="1470" y="459.5" width="2.5" height="1.4" fill="#b80000"/>
<rect x="1470" y="484.7" width="7" height="1.4" fill="#b80000"/>
<rect x="1470" y="606.8" width="7" height="1.4" fill="#b80000"/>
<rect x="1470" y="633.1" width="2.5" height="1.4" fill="#b80000"/>
<rect x="1470" y="659.4" width="7" height="1.4" fill="#b80000"/>
<rect x="1470" y="739.3" width="7" height="1.4" fill="#b80000"/>
<rect x="1470" y="765.5" width="2.5" height="1.4" fill="#b80000"/>
<rect x="1470" y="791.7" width="7" height="1.4" fill="#b80000"/>
<rect x="204.3" y="890" width="1.4" height="3" fill="#b80000"/>
<rect x="241.3" y="890" width="1.4" height="3" fill="#b80000"/>
<rect x="276.3" y="890" width="1.4" height="3" fill="#b80000"/>
<rect x="311.3" y="890" width="1.4" height="3" fill="#b80000"/>
<rect x="349.3" y="890" width="1.4" height="3" fill="#b80000"/>
<rect x="394.3" y="890" width="1.4" height="3" fill="#b80000"/>
<rect x="436.3" y="890" width="1.4" height="3" fill="#b80000"/>
<rect x="479.3" y="890" width="1.4" height="3" fill="#b80000"/>
<rect x="524.3" y="890" width="1.4" height="3" fill="#b80000"/>
<rect x="564.3" y="890" width="1.4" height="3" fill="#b80000"/>
<rect x="604.5999999999999" y="890" width="1.4" height="3" fill="#b80000"/>
<rect x="643.8" y="890" width="1.4" height="3" fill="#b80000"/>
<rect x="684.3" y="890" width="1.4" height="3" fill="#b80000"/>
<rect x="727.5999999999999" y="890" width="1.4" height="3" fill="#b80000"/>
<rect x="772.8" y="890" width="1.4" height="3" fill="#b80000"/>
<rect x="814.3" y="890" width="1.4" height="3" fill="#b80000"/>
<rect x="857.3" y="890" width="1.4" height="3" fill="#b80000"/>
<rect x="904.3" y="890" width="1.4" height="3" fill="#b80000"/>
<rect x="951.3" y="890" width="1.4" height="3" fill="#b80000"/>
<rect x="997.3" y="890" width="1.4" height="3" fill="#b80000"/>
<rect x="1044.3" y="890" width="1.4" height="3" fill="#b80000"/>
<rect x="1084.3" y="890" width="1.4" height="3" fill="#b80000"/>
<rect x="1123.8999999999999" y="890" width="1.4" height="3" fill="#b80000"/>
<rect x="1160.1" y="890" width="1.4" height="3" fill="#b80000"/>
<rect x="1197.3" y="890" width="1.4" height="3" fill="#b80000"/>
<rect x="1233.1" y="890" width="1.4" height="3" fill="#b80000"/>
<rect x="1269.6" y="890" width="1.4" height="3" fill="#b80000"/>
<rect x="1305.8" y="890" width="1.4" height="3" fill="#b80000"/>
<rect x="1342.0" y="890" width="1.4" height="3" fill="#b80000"/>
<path d="M1435.2,17 L1443.4,25.4 L1435.2,33.8 L1427,25.4 Z" fill="none" stroke="#b80000" stroke-width="1.4"/>
<rect x="1450.3" y="16.5" width="12.5" height="16" fill="none" stroke="#b80000" stroke-width="1.4"/><line x1="1458.5" x2="1458.5" y1="16.5" y2="32.5" stroke="#b80000" stroke-width="1.3"/>
<line x1="1421" x2="1442" y1="39.5" y2="39.5" stroke="#ff00ff" stroke-width="2.2" stroke-dasharray="4.5 3.5"/>
<path d="M2,449.3 L14.8,464.7 L14.8,510.4 L2,530.4 Z" fill="#363636" stroke="#6a6a6a" stroke-width="1.5"/>
<path d="M3.4,480.4 L11,487.7 L3.4,495 Z" fill="#f0a400"/>
<rect x="0" y="0" width="1504" height="11" fill="url(#tb)"/>
<rect x="580.6" y="0" width="57.4" height="7.6" fill="#e6e6e6" stroke="#fafafa" stroke-width="1"/>
<rect x="647.6" y="0" width="58.2" height="7.6" fill="#e6e6e6" stroke="#fafafa" stroke-width="1"/>
<rect x="0" y="0" width="27" height="2" fill="#fff"/>
<line x1="40" x2="77" y1="0.6" y2="0.6" stroke="#8c8c8c" stroke-width="1.4" stroke-dasharray="2.5 2" opacity="0.8"/>
<line x1="110" x2="142" y1="0.6" y2="0.6" stroke="#8c8c8c" stroke-width="1.4" stroke-dasharray="2.5 2" opacity="0.8"/>
<line x1="172" x2="205" y1="0.6" y2="0.6" stroke="#8c8c8c" stroke-width="1.4" stroke-dasharray="2.5 2" opacity="0.8"/>
<line x1="237" x2="262" y1="0.6" y2="0.6" stroke="#8c8c8c" stroke-width="1.4" stroke-dasharray="2.5 2" opacity="0.8"/>
<line x1="294" x2="363" y1="0.6" y2="0.6" stroke="#8c8c8c" stroke-width="1.4" stroke-dasharray="2.5 2" opacity="0.8"/>
<line x1="384" x2="422" y1="0.6" y2="0.6" stroke="#8c8c8c" stroke-width="1.4" stroke-dasharray="2.5 2" opacity="0.8"/>
<line x1="450" x2="491" y1="0.6" y2="0.6" stroke="#8c8c8c" stroke-width="1.4" stroke-dasharray="2.5 2" opacity="0.8"/>
<line x1="521" x2="525" y1="0.6" y2="0.6" stroke="#666" stroke-width="1.4" stroke-dasharray="2.5 2" opacity="0.8"/>
<line x1="541" x2="548" y1="0.6" y2="0.6" stroke="#666" stroke-width="1.4" stroke-dasharray="2.5 2" opacity="0.8"/>
<line x1="590" x2="627" y1="0.6" y2="0.6" stroke="#f06060" stroke-width="1.4" stroke-dasharray="2.5 2" opacity="0.8"/>
<line x1="662" x2="694" y1="0.6" y2="0.6" stroke="#f06060" stroke-width="1.4" stroke-dasharray="2.5 2" opacity="0.8"/>
<line x1="992" x2="1105" y1="0.6" y2="0.6" stroke="#8c8c8c" stroke-width="1.4" stroke-dasharray="2.5 2" opacity="0.8"/>
<line x1="1133" x2="1205" y1="0.6" y2="0.6" stroke="#8c8c8c" stroke-width="1.4" stroke-dasharray="2.5 2" opacity="0.8"/>
<rect x="92" y="0" width="1" height="8" fill="#c8c8c8"/>
<rect x="157" y="0" width="1" height="8" fill="#c8c8c8"/>
<rect x="222" y="0" width="1" height="8" fill="#c8c8c8"/>
<rect x="287" y="0" width="1" height="8" fill="#c8c8c8"/>
<rect x="0" y="8" width="2.2" height="885" fill="#e6e6e6"/>
<text x="3" y="0" transform="translate(0,31.3) scale(1,1.09)" fill="#c4c4c4" style="font-family:'Liberation Sans','Noto Sans CJK SC',sans-serif;font-size:17px;font-weight:300" textLength="178" lengthAdjust="spacing">上证指数(日线.前复权)</text>
<text x="211.9" y="30.4" fill="#ffffff" style="font-family:'Liberation Sans','Noto Sans CJK SC',sans-serif;font-size:18.8px" textLength="108.5" lengthAdjust="spacingAndGlyphs">MA5: 2667.58</text>
<text x="329.5" y="30.4" fill="#ffff00" style="font-family:'Liberation Sans','Noto Sans CJK SC',sans-serif;font-size:18.8px" textLength="119.5" lengthAdjust="spacingAndGlyphs">MA10: 2650.36</text>
<text x="459" y="30.4" fill="#ff00ff" style="font-family:'Liberation Sans','Noto Sans CJK SC',sans-serif;font-size:18.8px" textLength="119.5" lengthAdjust="spacingAndGlyphs">MA20: 2628.27</text>
<text x="587.5" y="30.4" fill="#00ff00" style="font-family:'Liberation Sans','Noto Sans CJK SC',sans-serif;font-size:18.8px" textLength="130" lengthAdjust="spacingAndGlyphs">MA250: 3040.77</text>
<text x="2.5" y="557.4" fill="#ffffff" style="font-family:'Liberation Sans','Noto Sans CJK SC',sans-serif;font-size:18.8px" textLength="201" lengthAdjust="spacingAndGlyphs">VOLUME: 231662832.00</text>
<text x="212" y="557.4" fill="#ffffff" style="font-family:'Liberation Sans','Noto Sans CJK SC',sans-serif;font-size:18.8px" textLength="163" lengthAdjust="spacingAndGlyphs">MA5: 233888432.00</text>
<text x="383.5" y="557.4" fill="#ffff00" style="font-family:'Liberation Sans','Noto Sans CJK SC',sans-serif;font-size:18.8px" textLength="173" lengthAdjust="spacingAndGlyphs">MA10: 199342672.00</text>
<text x="2.5" y="732.9" fill="#c8c8c8" style="font-family:'Liberation Sans','Noto Sans CJK SC',sans-serif;font-size:18.8px" textLength="124" lengthAdjust="spacingAndGlyphs">MACD(12,26,9)</text>
<text x="134.5" y="732.9" fill="#ffffff" style="font-family:'Liberation Sans','Noto Sans CJK SC',sans-serif;font-size:18.8px" textLength="72" lengthAdjust="spacingAndGlyphs">DIF: 6.51</text>
<text x="215" y="732.9" fill="#ffff00" style="font-family:'Liberation Sans','Noto Sans CJK SC',sans-serif;font-size:18.8px" textLength="86" lengthAdjust="spacingAndGlyphs">DEA: -5.09</text>
<text x="309.5" y="732.9" fill="#ff00ff" style="font-family:'Liberation Sans','Noto Sans CJK SC',sans-serif;font-size:18.8px" textLength="104" lengthAdjust="spacingAndGlyphs">MACD: 23.21</text>
<text x="27.1" y="78.5" fill="#c8c8c8" style="font-family:'Liberation Sans','Noto Sans CJK SC',sans-serif;font-size:18.8px" textLength="64.7" lengthAdjust="spacingAndGlyphs">3335.99</text>
<path d="M10.8,62.2 L5.2,65.4 L8,70.3 M5.2,65.4 L23,70" fill="none" stroke="#c8c8c8" stroke-width="1.3"/>
<text x="1196.2" y="334.1" fill="#c8c8c8" style="font-family:'Liberation Sans','Noto Sans CJK SC',sans-serif;font-size:18.8px" textLength="146.6" lengthAdjust="spacingAndGlyphs">2791.84 - 2771.94</text>
<text x="1291.9" y="519.7" fill="#c8c8c8" style="font-family:'Liberation Sans','Noto Sans CJK SC',sans-serif;font-size:18.8px" textLength="65" lengthAdjust="spacingAndGlyphs">2449.20</text>
<path d="M1272,511.4 L1288.7,511.4 M1276.5,508 L1272,511.4 L1276.5,514.5" fill="none" stroke="#c8c8c8" stroke-width="1.4"/>
<text x="1500.3" y="88.5" fill="#e83a3a" style="font-family:'Liberation Sans','Noto Sans CJK SC',sans-serif;font-size:18.8px" >3300</text>
<text x="1500.3" y="138.95" fill="#e83a3a" style="font-family:'Liberation Sans','Noto Sans CJK SC',sans-serif;font-size:18.8px" >3200</text>
<text x="1500.3" y="189.39999999999998" fill="#e83a3a" style="font-family:'Liberation Sans','Noto Sans CJK SC',sans-serif;font-size:18.8px" >3100</text>
<text x="1500.3" y="239.85000000000002" fill="#e83a3a" style="font-family:'Liberation Sans','Noto Sans CJK SC',sans-serif;font-size:18.8px" >3000</text>
<text x="1500.3" y="290.3" fill="#e83a3a" style="font-family:'Liberation Sans','Noto Sans CJK SC',sans-serif;font-size:18.8px" >2900</text>
<text x="1500.3" y="340.75" fill="#e83a3a" style="font-family:'Liberation Sans','Noto Sans CJK SC',sans-serif;font-size:18.8px" >2800</text>
<text x="1500.3" y="391.20000000000005" fill="#e83a3a" style="font-family:'Liberation Sans','Noto Sans CJK SC',sans-serif;font-size:18.8px" >2700</text>
<text x="1500.3" y="441.65000000000003" fill="#e83a3a" style="font-family:'Liberation Sans','Noto Sans CJK SC',sans-serif;font-size:18.8px" >2600</text>
<text x="1500.3" y="492.1" fill="#e83a3a" style="font-family:'Liberation Sans','Noto Sans CJK SC',sans-serif;font-size:18.8px" >2500</text>
<text x="1489.5" y="614.2" fill="#e83a3a" style="font-family:'Liberation Sans','Noto Sans CJK SC',sans-serif;font-size:18.8px" >20000</text>
<text x="1489.5" y="666.8000000000001" fill="#e83a3a" style="font-family:'Liberation Sans','Noto Sans CJK SC',sans-serif;font-size:18.8px" >10000</text>
<text x="1472" y="709.5" fill="#e83a3a" style="font-family:'Liberation Sans','Noto Sans CJK SC',sans-serif;font-size:18.5px" textLength="36" lengthAdjust="spacingAndGlyphs">X1万</text>
<text x="1495.8" y="746.7" fill="#e83a3a" style="font-family:'Liberation Sans','Noto Sans CJK SC',sans-serif;font-size:18.8px" >50.00</text>
</svg>
</body></html>
